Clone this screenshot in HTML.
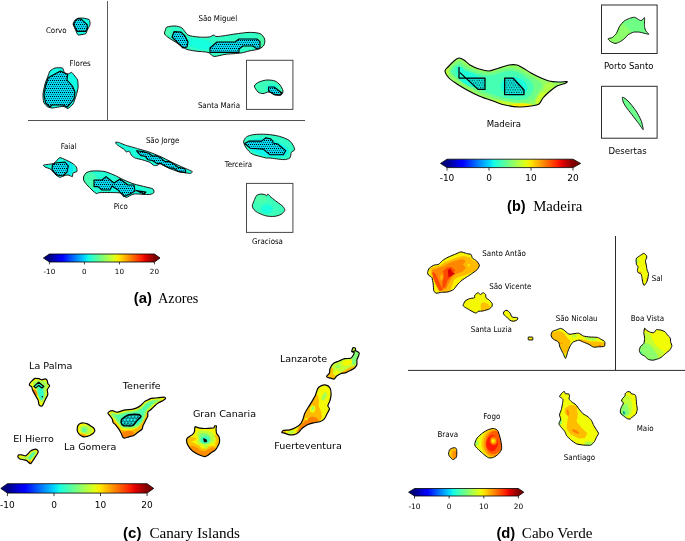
<!DOCTYPE html>
<html><head><meta charset="utf-8"><title>Figure</title>
<style>html,body{margin:0;padding:0;background:#fff}svg{display:block}text{font-family:"DejaVu Sans","Liberation Sans",sans-serif;fill:#000}text.cd{font-family:"DejaVu Sans Condensed","DejaVu Sans",sans-serif;font-stretch:condensed}text.cb{font-family:"Liberation Sans",sans-serif;font-weight:bold;font-size:13.9px;fill:#000}text.cs{font-family:"Liberation Serif",serif;font-size:14.1px;fill:#000}</style>
</head><body>
<svg width="685" height="541" viewBox="0 0 685 541">
<defs>
<clipPath id="c1"><path d="M78.1,18.3 C78.8,18.1 82.3,18.0 83.2,18.1 C84.1,18.2 88.6,19.1 89.2,19.6 C89.8,20.1 90.2,23.7 90.0,24.6 C89.8,25.5 87.6,29.4 87.2,30.2 C86.8,31.0 86.5,33.3 85.7,33.7 C84.9,34.1 78.9,35.2 78.1,35.0 C77.3,34.8 76.5,32.1 76.1,31.2 C75.7,30.3 73.2,25.0 73.1,24.1 C73.0,23.2 74.7,20.6 75.1,20.1 C75.5,19.6 77.4,18.5 78.1,18.3Z"/></clipPath>
<clipPath id="c2"><path d="M55.0,68.0 C53.8,68.3 50.7,70.2 50.0,71.0 C49.3,71.8 48.5,74.7 48.0,76.0 C47.5,77.3 45.5,82.2 45.0,84.0 C44.5,85.8 43.1,92.2 43.0,94.0 C42.9,95.8 43.2,100.8 43.6,102.0 C44.0,103.2 46.2,105.8 47.0,106.4 C47.8,107.0 50.4,108.0 52.0,108.0 C53.6,108.0 61.4,106.4 63.0,106.4 C64.6,106.4 67.0,108.6 68.0,108.4 C69.0,108.2 72.2,105.2 73.0,104.0 C73.8,102.8 75.5,97.6 76.0,96.0 C76.5,94.4 77.8,89.6 78.0,88.0 C78.2,86.4 78.0,81.3 77.6,80.0 C77.2,78.7 74.6,75.8 74.0,75.0 C73.4,74.2 72.2,72.5 71.6,72.4 C71.0,72.3 68.7,74.0 68.0,74.0 C67.3,74.0 65.0,73.0 64.4,72.4 C63.8,71.8 63.3,68.4 62.4,68.0 C61.5,67.6 56.2,67.7 55.0,68.0Z"/></clipPath>
<clipPath id="c3"><path d="M167.0,27.0 C168.3,26.5 173.0,25.9 175.0,26.0 C177.0,26.1 180.3,26.8 182.0,28.0 C183.7,29.2 185.9,33.8 188.0,35.0 C190.1,36.2 195.2,36.7 198.0,37.0 C200.8,37.3 206.9,37.3 209.0,37.0 C211.1,36.7 212.9,35.1 214.0,35.0 C215.1,34.9 214.2,36.7 217.0,36.6 C219.8,36.5 230.7,34.6 235.0,34.0 C239.3,33.4 245.7,32.5 249.0,32.4 C252.3,32.3 257.9,32.7 260.0,33.6 C262.1,34.5 264.1,37.5 264.6,39.0 C265.1,40.5 264.7,43.7 264.0,45.0 C263.3,46.3 261.0,48.2 259.0,49.0 C257.0,49.8 251.4,50.5 249.0,51.0 C246.6,51.5 244.2,52.5 241.0,53.0 C237.8,53.5 228.6,53.9 225.0,54.4 C221.4,54.9 216.3,56.7 214.0,56.4 C211.7,56.1 210.5,53.1 208.0,52.4 C205.5,51.7 197.9,51.5 195.0,51.0 C192.1,50.5 188.4,50.1 186.0,49.0 C183.6,47.9 179.3,44.5 177.0,43.0 C174.7,41.5 170.7,39.2 169.0,38.0 C167.3,36.8 165.1,35.1 164.6,34.0 C164.1,32.9 165.1,30.9 165.4,30.0 C165.7,29.1 165.7,27.5 167.0,27.0Z"/></clipPath>
<clipPath id="c4"><path d="M254.4,86.0 C254.5,84.7 257.3,82.8 259.0,82.0 C260.7,81.2 264.9,80.1 267.0,80.0 C269.1,79.9 273.3,80.3 275.0,81.0 C276.7,81.7 278.9,83.7 280.0,85.0 C281.1,86.3 282.9,89.7 283.0,91.0 C283.1,92.3 282.1,94.5 281.0,95.0 C279.9,95.5 276.6,95.4 275.0,95.0 C273.4,94.6 270.6,92.2 269.0,92.0 C267.4,91.8 264.5,93.6 263.0,93.6 C261.5,93.6 259.1,93.0 258.0,92.0 C256.9,91.0 254.3,87.3 254.4,86.0Z"/></clipPath>
<clipPath id="c5"><path d="M43.6,165.0 C44.4,164.7 52.6,164.0 54.0,163.4 C55.4,162.8 58.5,157.6 60.0,157.6 C61.5,157.6 70.6,162.2 72.0,163.0 C73.4,163.8 76.0,166.3 76.4,167.0 C76.8,167.7 77.3,170.9 77.0,171.4 C76.7,171.9 73.4,172.6 73.0,173.0 C72.6,173.4 72.8,176.4 72.4,176.6 C72.0,176.8 68.8,175.1 68.0,175.0 C67.2,174.9 63.7,175.8 63.0,176.0 C62.3,176.2 60.6,177.5 60.0,177.4 C59.4,177.3 56.8,175.7 56.0,175.0 C55.2,174.3 51.9,170.1 51.0,169.4 C50.1,168.7 45.6,167.4 45.0,167.0 C44.4,166.6 42.9,165.3 43.6,165.0Z"/></clipPath>
<clipPath id="c6"><path d="M83.6,177.0 C83.9,175.9 84.9,173.8 86.0,173.0 C87.1,172.2 89.6,171.2 92.0,171.0 C94.4,170.8 101.1,170.9 104.0,171.4 C106.9,171.9 111.3,173.9 114.0,175.0 C116.7,176.1 121.3,178.8 124.0,180.0 C126.7,181.2 131.1,183.1 134.0,184.0 C136.9,184.9 143.5,186.3 146.0,187.0 C148.5,187.7 152.0,188.2 153.0,189.0 C154.0,189.8 154.3,192.3 153.6,193.0 C152.9,193.7 150.6,194.5 148.0,194.6 C145.4,194.7 136.9,193.6 134.0,194.0 C131.1,194.4 127.7,197.5 126.0,197.4 C124.3,197.3 124.5,193.6 121.0,193.0 C117.5,192.4 103.3,192.5 100.0,192.6 C96.7,192.7 97.6,194.3 96.0,193.4 C94.4,192.5 89.6,187.7 88.0,186.0 C86.4,184.3 84.6,182.2 84.0,181.0 C83.4,179.8 83.3,178.1 83.6,177.0Z"/></clipPath>
<clipPath id="c7"><path d="M115.7,142.1 C116.0,142.0 118.6,142.4 119.4,142.7 C120.2,143.0 124.1,144.7 125.5,145.2 C126.9,145.7 134.6,147.7 136.5,148.3 C138.4,148.9 146.8,151.2 148.8,151.9 C150.8,152.6 159.0,155.9 161.0,156.8 C163.0,157.7 171.2,162.0 173.3,163.0 C175.4,164.0 184.0,167.8 185.6,168.5 C187.2,169.2 191.9,171.2 192.3,171.6 C192.7,172.0 191.1,173.3 190.5,173.4 C189.9,173.5 186.6,173.0 185.6,172.8 C184.6,172.7 179.5,172.0 178.2,171.6 C176.9,171.2 170.8,169.0 169.6,168.5 C168.4,168.0 164.3,165.8 163.5,165.4 C162.7,165.0 160.3,163.6 159.8,163.6 C159.3,163.6 157.9,165.2 157.4,165.4 C156.9,165.6 154.3,165.7 153.7,165.4 C153.1,165.2 150.9,162.9 150.0,162.4 C149.1,161.9 143.9,160.3 142.7,159.9 C141.5,159.5 136.2,158.5 135.3,158.1 C134.4,157.7 132.1,156.2 131.6,155.6 C131.1,155.0 129.7,151.6 129.2,151.3 C128.7,151.0 126.5,152.1 126.1,151.9 C125.7,151.8 124.9,150.0 124.3,149.5 C123.7,149.0 120.1,146.9 119.4,146.4 C118.7,145.9 116.6,144.4 116.3,144.0 C116.0,143.6 115.4,142.2 115.7,142.1Z"/></clipPath>
<clipPath id="c8"><path d="M243.6,141.9 C243.6,140.4 245.1,138.0 246.4,137.0 C247.7,136.0 250.9,135.0 253.6,134.6 C256.3,134.2 263.0,134.1 266.4,134.3 C269.8,134.5 276.3,135.5 279.3,136.3 C282.3,137.1 287.2,139.1 289.0,140.3 C290.8,141.5 292.3,143.8 293.0,145.1 C293.7,146.4 294.8,148.9 294.6,149.9 C294.4,150.9 292.0,151.2 291.4,152.3 C290.8,153.4 290.8,157.0 289.8,158.0 C288.8,159.0 285.9,159.5 284.1,159.6 C282.3,159.7 278.0,159.0 276.1,158.8 C274.2,158.6 271.0,158.1 269.7,158.0 C268.4,157.9 267.7,158.2 266.4,158.0 C265.1,157.8 261.9,156.9 260.0,156.4 C258.1,155.9 253.8,155.0 252.0,153.9 C250.2,152.8 247.5,149.9 246.4,148.3 C245.3,146.7 243.6,143.4 243.6,141.9Z"/></clipPath>
<clipPath id="c9"><path d="M252.3,205.9 C252.3,204.7 253.5,202.0 254.1,200.6 C254.7,199.2 255.8,196.3 256.7,195.4 C257.6,194.5 259.5,194.2 260.6,194.1 C261.7,194.0 264.4,194.5 265.2,194.7 C266.0,194.9 266.1,195.9 266.5,195.8 C266.9,195.7 267.3,193.9 267.9,194.1 C268.5,194.3 269.9,196.3 271.1,197.3 C272.3,198.3 275.4,200.7 277.0,201.9 C278.6,203.1 282.0,205.4 283.0,206.5 C284.0,207.6 285.0,209.4 284.7,210.5 C284.4,211.6 282.4,213.6 281.0,214.4 C279.6,215.2 276.3,216.2 274.4,216.4 C272.5,216.6 268.6,216.4 266.5,216.0 C264.4,215.6 260.4,213.9 258.7,213.1 C257.0,212.3 255.0,210.8 254.1,209.8 C253.2,208.8 252.3,207.1 252.3,205.9Z"/></clipPath>
<clipPath id="c10"><path d="M445.0,71.0 C444.9,69.3 446.6,68.5 448.0,67.0 C449.4,65.5 452.4,62.4 454.0,61.0 C455.6,59.6 457.5,58.1 459.0,58.0 C460.5,57.9 462.4,59.0 464.0,60.0 C465.6,61.0 467.8,63.6 470.0,65.0 C472.2,66.3 476.1,68.1 479.0,69.0 C481.9,69.9 486.0,71.2 489.0,71.0 C492.0,70.8 496.0,68.9 499.0,68.0 C502.0,67.1 506.3,65.5 509.0,65.0 C511.7,64.5 514.9,64.5 517.0,65.0 C519.1,65.5 520.9,66.8 523.0,68.0 C525.1,69.2 528.6,71.7 531.0,73.0 C533.4,74.3 536.3,75.8 539.0,77.0 C541.7,78.2 546.0,80.2 549.0,81.0 C552.0,81.8 556.3,81.9 559.0,82.0 C561.7,82.1 566.1,81.4 567.0,81.6 C567.9,81.8 566.5,82.7 565.0,83.4 C563.5,84.1 559.4,84.7 557.0,86.0 C554.6,87.3 551.1,90.2 549.0,92.0 C546.9,93.8 544.5,96.2 543.0,98.0 C541.5,99.8 540.8,102.8 539.0,104.0 C537.2,105.2 534.0,105.5 531.0,106.0 C528.0,106.5 522.9,107.2 519.0,107.0 C515.1,106.8 508.9,105.9 505.0,105.0 C501.1,104.1 496.9,102.3 493.0,101.0 C489.1,99.7 482.9,97.7 479.0,96.0 C475.1,94.3 470.3,91.8 467.0,90.0 C463.7,88.2 459.7,85.8 457.0,84.0 C454.3,82.2 450.8,80.0 449.0,78.0 C447.2,76.0 445.1,72.7 445.0,71.0Z"/></clipPath>
<clipPath id="c11"><path d="M608.1,38.8 C608.3,38.3 611.3,38.1 612.3,37.5 C613.3,36.9 615.4,34.8 616.3,33.5 C617.2,32.2 618.7,27.8 619.6,26.3 C620.5,24.8 623.1,21.9 624.2,21.0 C625.3,20.1 628.2,18.8 629.4,18.4 C630.6,18.0 633.5,17.1 634.7,17.3 C635.9,17.5 638.5,19.6 639.3,20.0 C640.1,20.4 641.3,20.7 641.9,20.4 C642.5,20.1 644.2,17.0 644.5,17.7 C644.8,18.4 644.3,24.8 644.5,26.3 C644.7,27.8 645.3,30.0 645.8,30.9 C646.3,31.8 649.0,33.9 648.9,34.2 C648.8,34.5 646.2,33.7 645.2,33.5 C644.2,33.3 641.3,32.4 639.9,32.2 C638.5,32.0 634.8,31.9 633.4,32.2 C632.0,32.5 629.2,34.0 628.1,34.8 C627.0,35.6 625.2,38.0 624.2,38.8 C623.2,39.6 620.7,41.5 619.6,42.0 C618.5,42.5 616.1,43.5 615.0,43.4 C613.9,43.3 611.2,41.9 610.4,41.4 C609.6,40.9 607.9,39.3 608.1,38.8Z"/></clipPath>
<clipPath id="c12"><path d="M622.6,97.1 C623.2,97.1 626.5,99.4 628.1,101.0 C629.7,102.6 634.5,108.6 636.0,110.9 C637.5,113.2 640.4,118.5 641.2,120.7 C642.0,122.9 643.5,129.4 643.2,129.7 C642.9,130.0 639.9,125.1 638.6,123.4 C637.3,121.7 633.5,116.8 632.0,114.8 C630.5,112.8 626.6,107.9 625.5,106.3 C624.4,104.7 623.2,102.1 622.9,101.0 C622.6,99.9 622.0,97.1 622.6,97.1Z"/></clipPath>
<clipPath id="c13"><path d="M29.3,384.9 C29.3,384.4 30.6,382.2 31.2,381.6 C31.8,381.0 34.1,378.7 34.9,378.4 C35.7,378.1 38.3,378.6 39.0,378.7 C39.7,378.8 41.1,379.8 41.8,379.8 C42.4,379.8 45.0,378.8 45.5,378.9 C46.0,379.0 47.1,380.2 47.3,380.7 C47.5,381.2 47.6,383.0 47.8,383.5 C48.0,384.0 49.8,385.2 49.7,385.8 C49.7,386.4 47.5,388.6 47.3,389.5 C47.1,390.4 48.0,393.6 47.8,394.6 C47.6,395.6 46.0,398.1 45.5,399.2 C45.0,400.3 43.1,404.5 42.7,405.2 C42.3,405.9 41.7,406.2 41.3,406.1 C40.9,406.1 39.3,405.3 39.0,404.7 C38.7,404.1 38.5,401.1 38.1,400.1 C37.7,399.1 35.4,395.6 34.9,394.6 C34.4,393.6 32.9,390.8 32.6,390.0 C32.3,389.2 31.9,387.2 31.6,386.7 C31.3,386.2 29.3,385.4 29.3,384.9Z"/></clipPath>
<clipPath id="c14"><path d="M17.9,456.1 C18.0,455.8 18.4,455.0 18.8,454.9 C19.2,454.8 21.0,454.8 21.7,454.9 C22.4,455.0 25.2,455.9 25.8,455.8 C26.4,455.7 27.6,454.2 28.1,453.7 C28.6,453.2 29.9,451.5 30.4,451.1 C30.9,450.7 32.8,449.8 33.4,449.6 C34.0,449.4 35.8,449.2 36.3,449.3 C36.8,449.4 37.8,450.5 38.0,450.8 C38.2,451.1 38.2,452.0 38.0,452.6 C37.8,453.2 36.2,455.7 35.7,456.4 C35.2,457.1 33.9,459.2 33.4,459.9 C32.9,460.6 31.4,463.1 31.0,463.4 C30.6,463.7 29.7,463.4 29.3,463.1 C28.9,462.8 27.4,461.0 26.9,460.7 C26.4,460.4 24.7,460.1 24.0,459.9 C23.3,459.7 20.5,459.2 19.9,459.0 C19.3,458.8 18.4,457.8 18.2,457.5 C18.0,457.2 17.8,456.4 17.9,456.1Z"/></clipPath>
<clipPath id="c15"><path d="M77.2,429.0 C77.3,428.0 77.4,426.5 77.9,425.6 C78.4,424.7 79.2,423.9 80.1,423.5 C81.0,423.1 82.3,422.9 83.5,423.0 C84.7,423.1 86.1,423.4 87.3,423.9 C88.5,424.4 89.7,425.2 90.7,425.9 C91.8,426.6 92.9,427.2 93.6,428.0 C94.3,428.8 94.8,429.6 94.8,430.4 C94.8,431.2 94.3,432.0 93.6,432.8 C92.9,433.6 91.8,434.4 90.7,435.0 C89.7,435.6 88.3,436.1 87.3,436.4 C86.2,436.7 85.4,437.0 84.4,436.9 C83.4,436.8 82.4,436.5 81.5,436.0 C80.6,435.5 79.6,434.6 78.9,433.8 C78.2,433.0 77.8,432.2 77.5,431.4 C77.2,430.6 77.1,430.0 77.2,429.0Z"/></clipPath>
<clipPath id="c16"><path d="M107.9,413.2 C107.9,412.8 109.4,411.5 109.8,411.3 C110.2,411.1 112.6,410.7 113.2,410.8 C113.8,410.9 115.9,412.2 116.5,412.2 C117.1,412.2 119.7,411.5 120.4,411.3 C121.1,411.1 124.2,410.0 125.2,409.8 C126.2,409.6 130.9,409.5 131.9,409.3 C132.9,409.1 136.1,408.2 136.8,407.9 C137.5,407.6 140.0,406.0 140.6,405.5 C141.2,405.0 143.9,402.1 144.5,401.6 C145.1,401.1 147.7,400.0 148.3,399.7 C148.9,399.4 150.6,398.4 151.2,398.3 C151.8,398.2 155.1,398.1 156.0,398.0 C156.9,397.9 161.1,397.4 161.8,397.3 C162.5,397.2 164.4,397.2 164.7,397.3 C165.0,397.4 165.7,398.4 165.5,398.7 C165.3,399.0 163.4,400.4 162.8,400.7 C162.2,401.0 159.5,402.2 158.9,402.6 C158.3,403.0 155.7,404.9 155.1,405.5 C154.5,406.1 151.8,408.7 151.2,409.3 C150.6,409.9 148.1,411.6 147.8,412.2 C147.5,412.8 148.0,415.4 147.8,416.1 C147.6,416.8 145.8,420.1 145.4,420.9 C145.0,421.7 143.3,425.0 143.0,425.7 C142.7,426.4 142.5,428.5 142.1,429.1 C141.7,429.7 138.4,432.0 137.7,432.5 C137.0,433.0 134.6,435.0 133.9,435.4 C133.2,435.8 129.8,436.6 129.0,436.8 C128.2,437.0 124.8,438.2 124.2,438.2 C123.6,438.2 122.5,436.7 122.3,436.3 C122.1,435.9 121.6,434.0 121.3,433.4 C121.0,432.8 119.0,429.3 118.5,428.6 C118.0,427.9 116.0,425.3 115.6,424.8 C115.2,424.3 113.5,423.3 113.2,422.8 C112.9,422.3 112.5,419.6 112.2,419.0 C111.9,418.4 110.2,416.1 109.8,415.6 C109.4,415.1 107.9,413.6 107.9,413.2Z"/></clipPath>
<clipPath id="c17"><path d="M195.1,426.6 C195.3,426.6 198.1,427.7 198.6,427.8 C199.1,427.9 204.2,428.5 204.8,428.5 C205.4,428.5 210.5,428.1 211.0,428.1 C211.5,428.1 213.9,427.9 214.1,427.8 C214.3,427.7 214.4,425.9 214.5,425.8 C214.6,425.7 216.4,425.7 216.5,425.8 C216.6,425.9 216.1,428.1 216.1,428.5 C216.1,428.9 216.4,432.8 216.5,433.2 C216.6,433.6 218.6,435.9 218.8,436.3 C219.0,436.7 219.6,439.8 219.6,440.2 C219.6,440.6 219.3,442.9 219.2,443.3 C219.1,443.7 217.4,446.8 217.2,447.2 C217.0,447.6 215.2,450.0 214.9,450.3 C214.6,450.6 210.7,453.1 210.3,453.4 C209.9,453.7 207.8,455.4 207.5,455.6 C207.2,455.8 205.2,456.6 204.8,456.6 C204.4,456.6 200.7,455.5 200.2,455.3 C199.7,455.1 195.2,452.9 194.7,452.6 C194.2,452.3 190.5,449.2 190.1,448.7 C189.7,448.2 187.2,443.8 187.0,443.3 C186.8,442.8 186.5,439.7 186.6,439.4 C186.7,439.1 188.2,437.3 188.5,437.1 C188.8,436.9 192.1,435.0 192.4,434.7 C192.7,434.4 194.3,431.9 194.4,431.6 C194.5,431.3 194.7,428.8 194.7,428.5 C194.7,428.2 194.9,426.6 195.1,426.6Z"/></clipPath>
<clipPath id="c18"><path d="M326.7,376.1 C326.9,375.7 329.1,373.8 329.4,373.0 C329.7,372.2 329.7,369.4 330.1,368.4 C330.5,367.4 332.7,364.0 333.6,363.3 C334.5,362.6 338.0,361.5 339.1,361.0 C340.2,360.5 343.3,359.0 344.5,358.7 C345.7,358.4 349.8,358.6 350.7,358.3 C351.6,358.0 352.6,356.2 353.0,355.6 C353.4,355.0 354.3,352.9 354.2,352.5 C354.1,352.1 351.8,352.1 351.7,351.6 C351.6,351.1 352.6,348.1 353.0,347.8 C353.4,347.5 355.1,347.9 355.4,348.2 C355.7,348.5 355.3,350.0 355.7,350.5 C356.1,351.0 358.9,352.3 359.2,352.9 C359.5,353.4 358.7,355.3 358.5,356.0 C358.3,356.7 357.1,358.9 356.9,359.8 C356.7,360.7 357.1,363.7 356.9,364.5 C356.7,365.3 355.2,367.4 354.6,368.0 C354.0,368.6 351.6,369.8 350.7,370.3 C349.8,370.8 347.0,372.2 346.0,372.6 C345.0,373.0 341.5,373.4 340.6,373.8 C339.7,374.2 337.4,375.6 336.7,376.1 C336.0,376.6 334.6,378.9 334.0,379.1 C333.4,379.3 331.2,378.3 330.5,378.1 C329.8,377.9 327.8,377.5 327.4,377.3 C327.0,377.1 326.5,376.5 326.7,376.1Z"/></clipPath>
<clipPath id="c19"><path d="M281.8,432.5 C281.7,432.2 282.6,430.7 283.4,430.4 C284.2,430.1 288.5,430.1 289.8,429.8 C291.1,429.5 295.1,427.8 296.2,427.2 C297.3,426.6 300.3,424.3 301.0,423.4 C301.7,422.5 302.8,419.6 303.2,418.6 C303.6,417.6 304.3,414.4 304.8,413.2 C305.3,412.0 307.9,408.0 308.6,406.8 C309.4,405.6 311.6,402.1 312.3,400.9 C313.0,399.7 315.0,396.2 315.5,395.0 C316.0,393.8 317.2,389.5 317.7,388.6 C318.2,387.7 320.0,386.2 320.9,385.9 C321.8,385.5 325.3,384.9 326.2,385.1 C327.1,385.3 329.5,387.1 330.0,388.0 C330.5,388.9 331.1,392.7 331.1,393.9 C331.1,395.1 330.3,399.2 330.0,400.4 C329.7,401.6 327.9,404.8 327.8,405.7 C327.8,406.6 329.6,408.0 329.5,408.9 C329.4,409.8 327.3,413.3 326.8,414.3 C326.3,415.3 324.8,418.4 324.1,419.1 C323.4,419.9 320.9,421.4 319.8,421.8 C318.7,422.2 314.7,422.6 313.4,422.9 C312.1,423.2 308.1,424.4 306.9,425.0 C305.7,425.6 302.5,428.1 301.6,428.8 C300.8,429.6 299.1,431.9 298.4,432.5 C297.6,433.1 295.1,434.5 294.1,434.7 C293.1,434.9 289.7,434.9 288.7,434.7 C287.7,434.5 285.1,433.3 284.4,433.1 C283.7,432.9 281.9,432.8 281.8,432.5Z"/></clipPath>
<clipPath id="c20"><path d="M427.5,272.5 C427.6,271.8 428.8,268.6 429.5,267.9 C430.2,267.2 433.3,265.5 434.2,265.1 C435.1,264.7 438.0,264.7 438.8,264.2 C439.6,263.7 441.6,261.2 442.5,260.5 C443.4,259.8 446.8,257.8 448.0,257.2 C449.2,256.6 453.2,255.0 454.5,254.5 C455.8,254.0 459.7,252.0 460.9,251.9 C462.1,251.8 465.5,253.2 466.5,253.5 C467.5,253.8 470.5,254.0 471.1,254.5 C471.7,255.0 471.9,257.6 472.5,258.2 C473.1,258.8 475.9,260.2 476.6,260.9 C477.3,261.6 479.3,264.3 479.4,265.1 C479.5,265.9 478.2,268.4 477.6,269.2 C477.0,270.0 473.9,272.2 472.9,272.9 C471.9,273.6 468.5,275.9 467.4,276.6 C466.3,277.3 462.9,279.5 461.9,280.3 C460.9,281.1 458.0,284.0 457.2,284.9 C456.4,285.8 454.4,288.9 453.5,289.6 C452.6,290.3 449.2,291.6 448.0,291.9 C446.8,292.2 442.7,292.2 441.5,292.3 C440.3,292.4 436.8,293.4 436.0,293.2 C435.2,293.0 434.0,291.4 433.7,290.5 C433.4,289.6 433.4,285.3 433.2,284.0 C433.0,282.7 432.3,278.4 431.8,277.5 C431.3,276.6 429.0,275.7 428.6,275.2 C428.2,274.7 427.4,273.2 427.5,272.5Z"/></clipPath>
<clipPath id="c21"><path d="M463.1,305.3 C463.2,304.8 464.5,301.7 465.0,301.1 C465.5,300.6 468.4,299.0 469.2,298.7 C470.0,298.4 473.9,298.1 474.4,297.8 C474.9,297.5 474.5,295.4 474.8,295.0 C475.1,294.6 477.6,292.7 478.1,292.7 C478.6,292.7 480.0,294.5 480.4,294.5 C480.8,294.5 482.8,292.7 483.2,292.7 C483.6,292.7 485.4,294.1 485.6,294.5 C485.8,294.9 485.7,297.3 486.0,297.8 C486.3,298.3 488.8,299.6 489.3,300.1 C489.8,300.6 491.9,302.9 492.1,303.4 C492.3,303.9 492.3,305.7 492.1,306.2 C491.9,306.7 490.0,308.6 489.3,309.0 C488.6,309.4 484.1,310.7 483.2,310.9 C482.3,311.1 478.7,311.2 478.1,311.4 C477.5,311.6 476.7,313.2 476.2,313.2 C475.7,313.2 472.7,311.8 472.0,311.4 C471.3,311.0 468.0,309.0 467.3,308.6 C466.6,308.2 464.5,307.0 464.1,306.7 C463.8,306.4 463.0,305.8 463.1,305.3Z"/></clipPath>
<clipPath id="c22"><path d="M503.3,313.2 C503.4,312.6 504.2,311.3 504.7,310.9 C505.2,310.5 506.4,310.1 507.1,310.4 C507.8,310.7 509.2,311.9 509.9,312.8 C510.6,313.7 511.4,316.4 512.2,317.0 C513.0,317.6 515.2,317.3 515.9,317.4 C516.6,317.5 517.7,317.5 517.8,317.9 C517.9,318.3 517.5,319.8 516.9,320.2 C516.3,320.6 514.0,321.2 513.1,321.2 C512.2,321.2 510.8,320.8 509.9,320.2 C509.0,319.6 507.3,317.7 506.6,317.0 C505.9,316.3 504.7,315.6 504.3,315.1 C503.9,314.6 503.2,313.8 503.3,313.2Z"/></clipPath>
<clipPath id="c23"><path d="M528.3,337.1 C528.5,337.0 532.4,337.0 532.6,337.1 C532.8,337.2 533.0,339.8 532.8,339.9 C532.6,340.0 528.6,340.0 528.4,339.9 C528.2,339.8 528.1,337.2 528.3,337.1Z"/></clipPath>
<clipPath id="c24"><path d="M551.1,334.6 C551.2,334.0 552.0,331.8 552.5,331.3 C553.0,330.8 555.5,330.2 556.3,329.9 C557.1,329.6 559.8,328.4 560.5,328.4 C561.2,328.4 563.0,329.3 563.8,329.9 C564.6,330.5 567.9,333.7 568.9,334.1 C569.9,334.5 573.0,333.8 574.0,333.7 C575.0,333.6 577.8,333.0 578.7,333.2 C579.6,333.4 582.3,335.6 583.4,336.0 C584.5,336.4 588.5,336.9 589.9,337.0 C591.3,337.1 596.3,337.2 597.4,337.4 C598.5,337.6 600.4,338.9 601.1,339.3 C601.8,339.7 604.4,340.9 604.7,341.6 C605.0,342.3 605.0,345.8 604.4,346.3 C603.8,346.8 599.4,346.7 598.3,346.8 C597.2,346.9 594.6,347.4 593.7,347.2 C592.8,347.0 590.0,344.9 589.0,344.4 C588.0,343.9 584.4,342.5 583.4,342.1 C582.4,341.7 579.7,340.2 578.7,340.2 C577.7,340.2 573.9,341.5 573.1,342.1 C572.3,342.7 570.8,344.9 570.3,345.8 C569.8,346.7 568.5,349.7 568.0,351.0 C567.5,352.3 566.1,358.1 565.6,358.4 C565.1,358.7 563.9,354.9 563.3,353.8 C562.7,352.7 560.5,348.4 560.0,347.2 C559.5,346.0 559.2,342.9 558.6,342.1 C558.0,341.3 554.2,339.8 553.5,339.3 C552.8,338.8 551.8,337.5 551.6,337.0 C551.4,336.5 551.0,335.2 551.1,334.6Z"/></clipPath>
<clipPath id="c25"><path d="M636.5,258.1 C636.9,257.6 639.7,255.9 640.4,255.4 C641.1,254.9 643.3,253.3 643.9,253.3 C644.5,253.3 646.3,255.3 646.6,255.8 C646.9,256.3 646.7,257.6 646.6,258.1 C646.5,258.6 645.4,260.1 645.4,260.8 C645.4,261.5 646.1,264.2 646.3,265.1 C646.5,266.0 646.8,268.8 647.0,269.7 C647.2,270.6 648.4,272.7 648.5,273.6 C648.6,274.5 647.9,278.2 647.7,279.1 C647.5,280.0 646.7,282.3 646.3,282.9 C645.9,283.5 644.4,285.5 644.0,285.4 C643.6,285.3 642.9,283.0 642.7,282.2 C642.5,281.4 642.1,278.3 641.9,277.5 C641.7,276.7 641.5,274.5 641.1,274.0 C640.8,273.5 638.8,273.2 638.4,272.8 C638.0,272.4 637.3,271.1 637.3,270.5 C637.3,269.9 638.1,267.2 638.0,266.6 C637.9,266.0 636.7,265.3 636.5,264.7 C636.3,264.1 636.1,261.5 636.1,260.8 C636.1,260.1 636.1,258.6 636.5,258.1Z"/></clipPath>
<clipPath id="c26"><path d="M644.6,328.1 C644.9,327.9 645.7,329.7 646.3,330.1 C646.9,330.5 649.5,331.9 650.3,332.2 C651.1,332.4 653.4,332.9 654.0,332.6 C654.6,332.4 655.7,329.9 656.4,329.7 C657.1,329.4 660.0,329.9 660.9,330.1 C661.8,330.3 664.3,331.3 665.0,331.8 C665.7,332.3 667.3,334.8 667.8,335.4 C668.3,336.0 669.9,337.2 670.2,337.9 C670.5,338.6 670.5,341.5 670.7,342.3 C670.9,343.1 671.9,344.9 671.9,345.6 C671.9,346.3 670.8,348.8 670.2,349.6 C669.6,350.4 666.6,352.6 665.8,353.3 C664.9,354.0 662.5,356.4 661.7,357.0 C660.9,357.6 658.5,358.7 657.6,359.0 C656.7,359.3 653.7,360.2 652.8,360.2 C651.9,360.2 649.1,359.8 648.3,359.4 C647.5,359.0 645.3,356.6 644.6,356.1 C643.9,355.6 641.5,354.7 641.0,354.1 C640.5,353.5 639.3,351.3 639.3,350.5 C639.3,349.7 640.1,347.1 640.6,346.4 C641.1,345.7 643.4,344.3 643.8,343.5 C644.2,342.7 644.6,339.4 644.6,338.3 C644.6,337.2 643.8,333.6 643.8,332.6 C643.8,331.6 644.4,328.4 644.6,328.1Z"/></clipPath>
<clipPath id="c27"><path d="M448.6,453.0 C448.7,452.4 449.3,450.1 449.6,449.6 C449.9,449.1 451.5,448.4 452.0,448.2 C452.5,448.0 454.5,447.5 455.0,447.6 C455.5,447.7 456.4,448.8 456.6,449.4 C456.8,450.0 456.8,453.2 456.8,454.0 C456.8,454.8 456.6,456.8 456.2,457.4 C455.8,458.0 453.6,459.6 453.0,459.6 C452.4,459.6 451.0,458.0 450.6,457.6 C450.2,457.2 449.2,456.1 449.0,455.6 C448.8,455.1 448.5,453.6 448.6,453.0Z"/></clipPath>
<clipPath id="c28"><path d="M474.8,443.4 C475.1,442.3 476.1,439.3 477.2,437.9 C478.3,436.5 481.2,434.0 482.7,432.9 C484.2,431.8 487.2,430.1 488.7,429.5 C490.2,428.9 492.4,428.4 493.6,428.5 C494.8,428.6 496.8,429.5 497.6,430.5 C498.4,431.5 499.1,434.3 499.6,435.9 C500.1,437.5 500.8,440.7 501.1,442.4 C501.4,444.1 501.9,447.3 501.6,448.8 C501.3,450.3 499.7,452.7 498.6,453.8 C497.5,454.9 494.9,456.8 493.6,457.3 C492.3,457.8 490.0,458.2 488.7,457.8 C487.4,457.4 485.0,455.4 483.7,454.3 C482.4,453.2 479.8,450.9 478.7,449.8 C477.6,448.7 475.8,447.2 475.3,446.3 C474.8,445.4 474.5,444.5 474.8,443.4Z"/></clipPath>
<clipPath id="c29"><path d="M559.5,396.6 C559.5,396.2 561.5,393.5 561.9,393.1 C562.3,392.7 563.9,391.2 564.2,391.3 C564.5,391.4 565.0,393.5 565.4,393.7 C565.8,393.9 568.7,393.8 569.0,394.0 C569.3,394.2 569.5,396.2 569.5,396.6 C569.5,397.0 568.8,398.6 569.0,399.0 C569.2,399.4 571.3,401.5 571.9,402.0 C572.5,402.5 575.4,404.3 576.0,404.9 C576.6,405.5 578.4,408.3 579.0,409.0 C579.6,409.7 582.4,413.2 583.1,413.8 C583.8,414.4 587.2,416.2 587.9,416.7 C588.6,417.2 590.9,419.6 591.4,420.3 C591.9,421.0 593.2,424.5 593.8,425.6 C594.4,426.7 598.3,432.4 598.5,433.3 C598.7,434.2 597.0,436.1 596.7,436.8 C596.4,437.5 594.9,440.9 594.4,441.6 C593.9,442.3 591.7,444.8 590.8,445.1 C589.9,445.4 584.9,445.2 583.7,445.1 C582.5,445.0 577.7,444.3 576.6,443.9 C575.5,443.5 571.5,440.5 570.7,439.8 C569.9,439.1 567.1,436.3 566.6,435.6 C566.1,434.9 565.2,432.2 564.8,431.5 C564.4,430.8 561.8,428.0 561.3,427.4 C560.8,426.8 558.9,424.5 558.9,423.8 C558.9,423.1 560.7,419.8 560.7,419.1 C560.8,418.4 559.5,415.8 559.5,415.0 C559.5,414.2 561.0,410.5 561.3,409.6 C561.5,408.7 562.4,404.5 562.5,403.7 C562.6,402.9 563.1,400.1 563.0,399.6 C562.9,399.1 561.6,398.1 561.3,397.8 C561.0,397.6 559.5,397.0 559.5,396.6Z"/></clipPath>
<clipPath id="c30"><path d="M625.3,393.4 C625.6,393.0 627.3,391.7 627.8,391.6 C628.3,391.5 629.9,391.8 630.3,392.0 C630.6,392.2 630.8,393.4 631.3,393.7 C631.8,394.0 634.7,394.3 635.2,394.8 C635.7,395.3 636.1,397.7 636.2,398.6 C636.3,399.6 636.5,403.2 636.6,404.3 C636.7,405.4 637.4,408.2 637.3,409.2 C637.2,410.2 636.4,413.3 635.9,414.1 C635.4,414.9 633.0,416.4 632.4,416.9 C631.8,417.4 630.8,418.8 630.3,419.0 C629.8,419.2 628.0,419.0 627.4,418.7 C626.8,418.4 624.6,416.8 623.9,416.2 C623.2,415.6 620.7,413.8 620.4,413.0 C620.1,412.2 620.6,409.3 620.8,408.5 C621.0,407.7 622.2,405.6 622.5,405.0 C622.8,404.4 623.7,403.3 623.6,402.9 C623.5,402.5 621.6,401.5 621.5,401.1 C621.4,400.7 622.1,399.1 622.5,398.6 C622.9,398.1 624.7,396.3 625.0,395.8 C625.3,395.3 625.0,393.8 625.3,393.4Z"/></clipPath>
<linearGradient id="g31" gradientUnits="userSpaceOnUse" x1="43.4" x2="160.0" y1="0" y2="0"><stop offset="0" stop-color="#000080"/><stop offset="0.0515" stop-color="#000080"/><stop offset="0.0890" stop-color="#0000b0"/><stop offset="0.1265" stop-color="#0000e0"/><stop offset="0.1640" stop-color="#0000ff"/><stop offset="0.2015" stop-color="#002aff"/><stop offset="0.2391" stop-color="#0055ff"/><stop offset="0.2766" stop-color="#0080ff"/><stop offset="0.3141" stop-color="#00aaff"/><stop offset="0.3516" stop-color="#00d4ff"/><stop offset="0.3892" stop-color="#15ffe2"/><stop offset="0.4267" stop-color="#37ffc0"/><stop offset="0.4642" stop-color="#59ff9e"/><stop offset="0.5017" stop-color="#7bff7b"/><stop offset="0.5392" stop-color="#9eff59"/><stop offset="0.5768" stop-color="#c0ff37"/><stop offset="0.6143" stop-color="#e2ff15"/><stop offset="0.6518" stop-color="#ffe600"/><stop offset="0.6893" stop-color="#ffbe00"/><stop offset="0.7268" stop-color="#ff9700"/><stop offset="0.7644" stop-color="#ff7000"/><stop offset="0.8019" stop-color="#ff4800"/><stop offset="0.8394" stop-color="#ff2100"/><stop offset="0.8769" stop-color="#e00000"/><stop offset="0.9145" stop-color="#b00000"/><stop offset="0.9520" stop-color="#800000"/><stop offset="1" stop-color="#800000"/></linearGradient>
<linearGradient id="g32" gradientUnits="userSpaceOnUse" x1="440.5" x2="580.6" y1="0" y2="0"><stop offset="0" stop-color="#000080"/><stop offset="0.0464" stop-color="#000080"/><stop offset="0.0839" stop-color="#0000b0"/><stop offset="0.1213" stop-color="#0000e0"/><stop offset="0.1588" stop-color="#0000ff"/><stop offset="0.1963" stop-color="#002aff"/><stop offset="0.2338" stop-color="#0055ff"/><stop offset="0.2712" stop-color="#0080ff"/><stop offset="0.3087" stop-color="#00aaff"/><stop offset="0.3462" stop-color="#00d4ff"/><stop offset="0.3837" stop-color="#15ffe2"/><stop offset="0.4211" stop-color="#37ffc0"/><stop offset="0.4586" stop-color="#59ff9e"/><stop offset="0.4961" stop-color="#7bff7b"/><stop offset="0.5335" stop-color="#9eff59"/><stop offset="0.5710" stop-color="#c0ff37"/><stop offset="0.6085" stop-color="#e2ff15"/><stop offset="0.6460" stop-color="#ffe600"/><stop offset="0.6834" stop-color="#ffbe00"/><stop offset="0.7209" stop-color="#ff9700"/><stop offset="0.7584" stop-color="#ff7000"/><stop offset="0.7959" stop-color="#ff4800"/><stop offset="0.8333" stop-color="#ff2100"/><stop offset="0.8708" stop-color="#e00000"/><stop offset="0.9083" stop-color="#b00000"/><stop offset="0.9458" stop-color="#800000"/><stop offset="1" stop-color="#800000"/></linearGradient>
<linearGradient id="g33" gradientUnits="userSpaceOnUse" x1="0.8" x2="153.7" y1="0" y2="0"><stop offset="0" stop-color="#000080"/><stop offset="0.0432" stop-color="#000080"/><stop offset="0.0812" stop-color="#0000b0"/><stop offset="0.1193" stop-color="#0000e0"/><stop offset="0.1574" stop-color="#0000ff"/><stop offset="0.1954" stop-color="#002aff"/><stop offset="0.2335" stop-color="#0055ff"/><stop offset="0.2716" stop-color="#0080ff"/><stop offset="0.3097" stop-color="#00aaff"/><stop offset="0.3477" stop-color="#00d4ff"/><stop offset="0.3858" stop-color="#15ffe2"/><stop offset="0.4239" stop-color="#37ffc0"/><stop offset="0.4619" stop-color="#59ff9e"/><stop offset="0.5000" stop-color="#7bff7b"/><stop offset="0.5381" stop-color="#9eff59"/><stop offset="0.5761" stop-color="#c0ff37"/><stop offset="0.6142" stop-color="#e2ff15"/><stop offset="0.6523" stop-color="#ffe600"/><stop offset="0.6903" stop-color="#ffbe00"/><stop offset="0.7284" stop-color="#ff9700"/><stop offset="0.7665" stop-color="#ff7000"/><stop offset="0.8046" stop-color="#ff4800"/><stop offset="0.8426" stop-color="#ff2100"/><stop offset="0.8807" stop-color="#e00000"/><stop offset="0.9188" stop-color="#b00000"/><stop offset="0.9568" stop-color="#800000"/><stop offset="1" stop-color="#800000"/></linearGradient>
<linearGradient id="g34" gradientUnits="userSpaceOnUse" x1="408.6" x2="523.8" y1="0" y2="0"><stop offset="0" stop-color="#000080"/><stop offset="0.0512" stop-color="#000080"/><stop offset="0.0888" stop-color="#0000b0"/><stop offset="0.1264" stop-color="#0000e0"/><stop offset="0.1640" stop-color="#0000ff"/><stop offset="0.2015" stop-color="#002aff"/><stop offset="0.2391" stop-color="#0055ff"/><stop offset="0.2767" stop-color="#0080ff"/><stop offset="0.3143" stop-color="#00aaff"/><stop offset="0.3519" stop-color="#00d4ff"/><stop offset="0.3894" stop-color="#15ffe2"/><stop offset="0.4270" stop-color="#37ffc0"/><stop offset="0.4646" stop-color="#59ff9e"/><stop offset="0.5022" stop-color="#7bff7b"/><stop offset="0.5397" stop-color="#9eff59"/><stop offset="0.5773" stop-color="#c0ff37"/><stop offset="0.6149" stop-color="#e2ff15"/><stop offset="0.6525" stop-color="#ffe600"/><stop offset="0.6901" stop-color="#ffbe00"/><stop offset="0.7276" stop-color="#ff9700"/><stop offset="0.7652" stop-color="#ff7000"/><stop offset="0.8028" stop-color="#ff4800"/><stop offset="0.8404" stop-color="#ff2100"/><stop offset="0.8780" stop-color="#e00000"/><stop offset="0.9155" stop-color="#b00000"/><stop offset="0.9531" stop-color="#800000"/><stop offset="1" stop-color="#800000"/></linearGradient>
<pattern id="dots" width="2" height="4" patternUnits="userSpaceOnUse"><circle cx="0.5" cy="0.5" r="0.58" fill="#000"/><circle cx="1.5" cy="2.5" r="0.46" fill="#000"/></pattern>
<pattern id="dots2" width="2.4" height="4.8" patternUnits="userSpaceOnUse"><circle cx="0.6" cy="1.2" r="0.62" fill="#000"/><circle cx="1.8" cy="3.6" r="0.62" fill="#000"/></pattern>
<pattern id="dots3" x="122.3" y="415.3" width="3.3" height="6" patternUnits="userSpaceOnUse"><rect width="3.3" height="6" fill="#001818"/><circle cx="0.825" cy="1.5" r="1.32" fill="#20fcfa"/><circle cx="4.125" cy="1.5" r="1.5" fill="#20fcfa"/><circle cx="2.475" cy="4.5" r="1.5" fill="#20fcfa"/><circle cx="-0.825" cy="4.5" r="1.5" fill="#20fcfa"/></pattern>
<filter id="b0.3" x="-30%" y="-30%" width="160%" height="160%"><feGaussianBlur stdDeviation="0.3"/></filter>
<filter id="b0.4" x="-30%" y="-30%" width="160%" height="160%"><feGaussianBlur stdDeviation="0.4"/></filter>
<filter id="b0.5" x="-30%" y="-30%" width="160%" height="160%"><feGaussianBlur stdDeviation="0.5"/></filter>
<filter id="b0.6" x="-30%" y="-30%" width="160%" height="160%"><feGaussianBlur stdDeviation="0.6"/></filter>
<filter id="b0.7" x="-30%" y="-30%" width="160%" height="160%"><feGaussianBlur stdDeviation="0.7"/></filter>
<filter id="b0.8" x="-30%" y="-30%" width="160%" height="160%"><feGaussianBlur stdDeviation="0.8"/></filter>
<filter id="b1.2" x="-30%" y="-30%" width="160%" height="160%"><feGaussianBlur stdDeviation="1.2"/></filter>
</defs>
<rect width="685" height="541" fill="#fff"/>
<g clip-path="url(#c1)"><path d="M78.1,18.3 C78.8,18.1 82.3,18.0 83.2,18.1 C84.1,18.2 88.6,19.1 89.2,19.6 C89.8,20.1 90.2,23.7 90.0,24.6 C89.8,25.5 87.6,29.4 87.2,30.2 C86.8,31.0 86.5,33.3 85.7,33.7 C84.9,34.1 78.9,35.2 78.1,35.0 C77.3,34.8 76.5,32.1 76.1,31.2 C75.7,30.3 73.2,25.0 73.1,24.1 C73.0,23.2 74.7,20.6 75.1,20.1 C75.5,19.6 77.4,18.5 78.1,18.3Z" fill="#13fde4"/></g><path d="M78.1,18.6 L81.1,19.1 L87.2,24.6 L87.4,29.2 L85.7,31.4 L77.1,31.4 L73.6,24.6 L75.6,20.1Z" fill="#06d6ee"/><path d="M78.1,18.6 L81.1,19.1 L87.2,24.6 L87.4,29.2 L85.7,31.4 L77.1,31.4 L73.6,24.6 L75.6,20.1Z" fill="url(#dots)" stroke="#000" stroke-width="1.10" stroke-linejoin="round"/><path d="M78.1,18.3 C78.8,18.1 82.3,18.0 83.2,18.1 C84.1,18.2 88.6,19.1 89.2,19.6 C89.8,20.1 90.2,23.7 90.0,24.6 C89.8,25.5 87.6,29.4 87.2,30.2 C86.8,31.0 86.5,33.3 85.7,33.7 C84.9,34.1 78.9,35.2 78.1,35.0 C77.3,34.8 76.5,32.1 76.1,31.2 C75.7,30.3 73.2,25.0 73.1,24.1 C73.0,23.2 74.7,20.6 75.1,20.1 C75.5,19.6 77.4,18.5 78.1,18.3Z" fill="none" stroke="#000" stroke-width="0.90" stroke-linejoin="round"/>
<g clip-path="url(#c2)"><path d="M55.0,68.0 C53.8,68.3 50.7,70.2 50.0,71.0 C49.3,71.8 48.5,74.7 48.0,76.0 C47.5,77.3 45.5,82.2 45.0,84.0 C44.5,85.8 43.1,92.2 43.0,94.0 C42.9,95.8 43.2,100.8 43.6,102.0 C44.0,103.2 46.2,105.8 47.0,106.4 C47.8,107.0 50.4,108.0 52.0,108.0 C53.6,108.0 61.4,106.4 63.0,106.4 C64.6,106.4 67.0,108.6 68.0,108.4 C69.0,108.2 72.2,105.2 73.0,104.0 C73.8,102.8 75.5,97.6 76.0,96.0 C76.5,94.4 77.8,89.6 78.0,88.0 C78.2,86.4 78.0,81.3 77.6,80.0 C77.2,78.7 74.6,75.8 74.0,75.0 C73.4,74.2 72.2,72.5 71.6,72.4 C71.0,72.3 68.7,74.0 68.0,74.0 C67.3,74.0 65.0,73.0 64.4,72.4 C63.8,71.8 63.3,68.4 62.4,68.0 C61.5,67.6 56.2,67.7 55.0,68.0Z" fill="#13fde4"/></g><path d="M60.5,71.0 L64.4,73.0 L67.6,74.4 L67.0,80.0 L72.4,86.0 L75.0,92.0 L74.0,99.0 L70.0,104.0 L67.0,107.0 L63.0,105.0 L52.0,105.0 L50.0,107.0 L45.6,103.0 L44.0,95.0 L45.6,86.0 L48.0,78.0 L53.0,75.0Z" fill="#06d6ee"/><path d="M60.5,71.0 L64.4,73.0 L67.6,74.4 L67.0,80.0 L72.4,86.0 L75.0,92.0 L74.0,99.0 L70.0,104.0 L67.0,107.0 L63.0,105.0 L52.0,105.0 L50.0,107.0 L45.6,103.0 L44.0,95.0 L45.6,86.0 L48.0,78.0 L53.0,75.0Z" fill="url(#dots)" stroke="#000" stroke-width="1.10" stroke-linejoin="round"/><path d="M55.0,68.0 C53.8,68.3 50.7,70.2 50.0,71.0 C49.3,71.8 48.5,74.7 48.0,76.0 C47.5,77.3 45.5,82.2 45.0,84.0 C44.5,85.8 43.1,92.2 43.0,94.0 C42.9,95.8 43.2,100.8 43.6,102.0 C44.0,103.2 46.2,105.8 47.0,106.4 C47.8,107.0 50.4,108.0 52.0,108.0 C53.6,108.0 61.4,106.4 63.0,106.4 C64.6,106.4 67.0,108.6 68.0,108.4 C69.0,108.2 72.2,105.2 73.0,104.0 C73.8,102.8 75.5,97.6 76.0,96.0 C76.5,94.4 77.8,89.6 78.0,88.0 C78.2,86.4 78.0,81.3 77.6,80.0 C77.2,78.7 74.6,75.8 74.0,75.0 C73.4,74.2 72.2,72.5 71.6,72.4 C71.0,72.3 68.7,74.0 68.0,74.0 C67.3,74.0 65.0,73.0 64.4,72.4 C63.8,71.8 63.3,68.4 62.4,68.0 C61.5,67.6 56.2,67.7 55.0,68.0Z" fill="none" stroke="#000" stroke-width="0.90" stroke-linejoin="round"/>
<g clip-path="url(#c3)"><path d="M167.0,27.0 C168.3,26.5 173.0,25.9 175.0,26.0 C177.0,26.1 180.3,26.8 182.0,28.0 C183.7,29.2 185.9,33.8 188.0,35.0 C190.1,36.2 195.2,36.7 198.0,37.0 C200.8,37.3 206.9,37.3 209.0,37.0 C211.1,36.7 212.9,35.1 214.0,35.0 C215.1,34.9 214.2,36.7 217.0,36.6 C219.8,36.5 230.7,34.6 235.0,34.0 C239.3,33.4 245.7,32.5 249.0,32.4 C252.3,32.3 257.9,32.7 260.0,33.6 C262.1,34.5 264.1,37.5 264.6,39.0 C265.1,40.5 264.7,43.7 264.0,45.0 C263.3,46.3 261.0,48.2 259.0,49.0 C257.0,49.8 251.4,50.5 249.0,51.0 C246.6,51.5 244.2,52.5 241.0,53.0 C237.8,53.5 228.6,53.9 225.0,54.4 C221.4,54.9 216.3,56.7 214.0,56.4 C211.7,56.1 210.5,53.1 208.0,52.4 C205.5,51.7 197.9,51.5 195.0,51.0 C192.1,50.5 188.4,50.1 186.0,49.0 C183.6,47.9 179.3,44.5 177.0,43.0 C174.7,41.5 170.7,39.2 169.0,38.0 C167.3,36.8 165.1,35.1 164.6,34.0 C164.1,32.9 165.1,30.9 165.4,30.0 C165.7,29.1 165.7,27.5 167.0,27.0Z" fill="#31ffc5"/><g filter="url(#b0.7)"><ellipse cx="200.0" cy="44.0" rx="14.0" ry="5.0" fill="#19ffde" transform="rotate(10 200.0 44.0)"/><ellipse cx="262.0" cy="42.0" rx="4.0" ry="8.0" fill="#4affad" transform="rotate(0 262.0 42.0)"/><ellipse cx="167.0" cy="31.0" rx="4.0" ry="5.0" fill="#45ffb2" transform="rotate(0 167.0 31.0)"/></g></g><path d="M174.0,31.6 L181.0,32.0 L185.0,36.0 L188.0,42.0 L187.0,47.0 L183.0,48.0 L177.0,42.0 L172.0,37.0Z" fill="#06d6ee"/><path d="M174.0,31.6 L181.0,32.0 L185.0,36.0 L188.0,42.0 L187.0,47.0 L183.0,48.0 L177.0,42.0 L172.0,37.0Z" fill="url(#dots)" stroke="#000" stroke-width="1.10" stroke-linejoin="round"/><path d="M217.0,42.0 L235.0,42.0 L239.0,39.0 L257.0,39.0 L260.0,41.6 L260.0,48.0 L256.0,48.4 L253.0,46.0 L243.0,46.0 L239.0,49.0 L239.0,52.4 L210.0,52.4 L210.0,48.0Z" fill="#06d6ee"/><path d="M217.0,42.0 L235.0,42.0 L239.0,39.0 L257.0,39.0 L260.0,41.6 L260.0,48.0 L256.0,48.4 L253.0,46.0 L243.0,46.0 L239.0,49.0 L239.0,52.4 L210.0,52.4 L210.0,48.0Z" fill="url(#dots)" stroke="#000" stroke-width="1.10" stroke-linejoin="round"/><path d="M167.0,27.0 C168.3,26.5 173.0,25.9 175.0,26.0 C177.0,26.1 180.3,26.8 182.0,28.0 C183.7,29.2 185.9,33.8 188.0,35.0 C190.1,36.2 195.2,36.7 198.0,37.0 C200.8,37.3 206.9,37.3 209.0,37.0 C211.1,36.7 212.9,35.1 214.0,35.0 C215.1,34.9 214.2,36.7 217.0,36.6 C219.8,36.5 230.7,34.6 235.0,34.0 C239.3,33.4 245.7,32.5 249.0,32.4 C252.3,32.3 257.9,32.7 260.0,33.6 C262.1,34.5 264.1,37.5 264.6,39.0 C265.1,40.5 264.7,43.7 264.0,45.0 C263.3,46.3 261.0,48.2 259.0,49.0 C257.0,49.8 251.4,50.5 249.0,51.0 C246.6,51.5 244.2,52.5 241.0,53.0 C237.8,53.5 228.6,53.9 225.0,54.4 C221.4,54.9 216.3,56.7 214.0,56.4 C211.7,56.1 210.5,53.1 208.0,52.4 C205.5,51.7 197.9,51.5 195.0,51.0 C192.1,50.5 188.4,50.1 186.0,49.0 C183.6,47.9 179.3,44.5 177.0,43.0 C174.7,41.5 170.7,39.2 169.0,38.0 C167.3,36.8 165.1,35.1 164.6,34.0 C164.1,32.9 165.1,30.9 165.4,30.0 C165.7,29.1 165.7,27.5 167.0,27.0Z" fill="none" stroke="#000" stroke-width="0.90" stroke-linejoin="round"/>
<g clip-path="url(#c4)"><path d="M254.4,86.0 C254.5,84.7 257.3,82.8 259.0,82.0 C260.7,81.2 264.9,80.1 267.0,80.0 C269.1,79.9 273.3,80.3 275.0,81.0 C276.7,81.7 278.9,83.7 280.0,85.0 C281.1,86.3 282.9,89.7 283.0,91.0 C283.1,92.3 282.1,94.5 281.0,95.0 C279.9,95.5 276.6,95.4 275.0,95.0 C273.4,94.6 270.6,92.2 269.0,92.0 C267.4,91.8 264.5,93.6 263.0,93.6 C261.5,93.6 259.1,93.0 258.0,92.0 C256.9,91.0 254.3,87.3 254.4,86.0Z" fill="#3cffba"/><g filter="url(#b0.7)"><ellipse cx="272.0" cy="88.0" rx="6.0" ry="4.0" fill="#1effd9" transform="rotate(0 272.0 88.0)"/></g></g><path d="M268.6,87.0 L274.0,87.0 L282.0,93.0 L280.0,95.0 L274.0,94.4 L268.6,91.0Z" fill="#06d6ee"/><path d="M268.6,87.0 L274.0,87.0 L282.0,93.0 L280.0,95.0 L274.0,94.4 L268.6,91.0Z" fill="url(#dots)" stroke="#000" stroke-width="1.10" stroke-linejoin="round"/><path d="M254.4,86.0 C254.5,84.7 257.3,82.8 259.0,82.0 C260.7,81.2 264.9,80.1 267.0,80.0 C269.1,79.9 273.3,80.3 275.0,81.0 C276.7,81.7 278.9,83.7 280.0,85.0 C281.1,86.3 282.9,89.7 283.0,91.0 C283.1,92.3 282.1,94.5 281.0,95.0 C279.9,95.5 276.6,95.4 275.0,95.0 C273.4,94.6 270.6,92.2 269.0,92.0 C267.4,91.8 264.5,93.6 263.0,93.6 C261.5,93.6 259.1,93.0 258.0,92.0 C256.9,91.0 254.3,87.3 254.4,86.0Z" fill="none" stroke="#000" stroke-width="0.90" stroke-linejoin="round"/>
<g clip-path="url(#c5)"><path d="M43.6,165.0 C44.4,164.7 52.6,164.0 54.0,163.4 C55.4,162.8 58.5,157.6 60.0,157.6 C61.5,157.6 70.6,162.2 72.0,163.0 C73.4,163.8 76.0,166.3 76.4,167.0 C76.8,167.7 77.3,170.9 77.0,171.4 C76.7,171.9 73.4,172.6 73.0,173.0 C72.6,173.4 72.8,176.4 72.4,176.6 C72.0,176.8 68.8,175.1 68.0,175.0 C67.2,174.9 63.7,175.8 63.0,176.0 C62.3,176.2 60.6,177.5 60.0,177.4 C59.4,177.3 56.8,175.7 56.0,175.0 C55.2,174.3 51.9,170.1 51.0,169.4 C50.1,168.7 45.6,167.4 45.0,167.0 C44.4,166.6 42.9,165.3 43.6,165.0Z" fill="#1effd9"/><g filter="url(#b0.7)"><ellipse cx="68.5" cy="168.0" rx="4.5" ry="7.0" fill="#05ecf1" transform="rotate(-10 68.5 168.0)"/></g></g><path d="M55.0,163.0 L65.0,162.0 L68.4,166.0 L67.0,172.0 L63.0,176.0 L57.0,175.0 L52.0,170.0 L52.4,165.0Z" fill="#06d6ee"/><path d="M55.0,163.0 L65.0,162.0 L68.4,166.0 L67.0,172.0 L63.0,176.0 L57.0,175.0 L52.0,170.0 L52.4,165.0Z" fill="url(#dots)" stroke="#000" stroke-width="1.10" stroke-linejoin="round"/><path d="M43.6,165.0 C44.4,164.7 52.6,164.0 54.0,163.4 C55.4,162.8 58.5,157.6 60.0,157.6 C61.5,157.6 70.6,162.2 72.0,163.0 C73.4,163.8 76.0,166.3 76.4,167.0 C76.8,167.7 77.3,170.9 77.0,171.4 C76.7,171.9 73.4,172.6 73.0,173.0 C72.6,173.4 72.8,176.4 72.4,176.6 C72.0,176.8 68.8,175.1 68.0,175.0 C67.2,174.9 63.7,175.8 63.0,176.0 C62.3,176.2 60.6,177.5 60.0,177.4 C59.4,177.3 56.8,175.7 56.0,175.0 C55.2,174.3 51.9,170.1 51.0,169.4 C50.1,168.7 45.6,167.4 45.0,167.0 C44.4,166.6 42.9,165.3 43.6,165.0Z" fill="none" stroke="#000" stroke-width="0.90" stroke-linejoin="round"/>
<g clip-path="url(#c6)"><path d="M83.6,177.0 C83.9,175.9 84.9,173.8 86.0,173.0 C87.1,172.2 89.6,171.2 92.0,171.0 C94.4,170.8 101.1,170.9 104.0,171.4 C106.9,171.9 111.3,173.9 114.0,175.0 C116.7,176.1 121.3,178.8 124.0,180.0 C126.7,181.2 131.1,183.1 134.0,184.0 C136.9,184.9 143.5,186.3 146.0,187.0 C148.5,187.7 152.0,188.2 153.0,189.0 C154.0,189.8 154.3,192.3 153.6,193.0 C152.9,193.7 150.6,194.5 148.0,194.6 C145.4,194.7 136.9,193.6 134.0,194.0 C131.1,194.4 127.7,197.5 126.0,197.4 C124.3,197.3 124.5,193.6 121.0,193.0 C117.5,192.4 103.3,192.5 100.0,192.6 C96.7,192.7 97.6,194.3 96.0,193.4 C94.4,192.5 89.6,187.7 88.0,186.0 C86.4,184.3 84.6,182.2 84.0,181.0 C83.4,179.8 83.3,178.1 83.6,177.0Z" fill="#24ffd3"/><g filter="url(#b0.7)"><ellipse cx="90.0" cy="180.0" rx="7.0" ry="9.0" fill="#45ffb2" transform="rotate(-20 90.0 180.0)"/><ellipse cx="120.0" cy="188.0" rx="26.0" ry="5.0" fill="#13fde4" transform="rotate(12 120.0 188.0)"/></g></g><path d="M94.0,180.0 L102.0,180.0 L106.0,176.6 L114.0,183.0 L120.0,179.0 L128.0,185.0 L134.0,185.0 L135.0,191.0 L130.0,194.0 L124.0,196.6 L118.0,190.0 L112.0,186.0 L110.0,190.0 L102.0,190.0 L98.0,186.6 L94.0,186.6Z" fill="#06d6ee"/><path d="M94.0,180.0 L102.0,180.0 L106.0,176.6 L114.0,183.0 L120.0,179.0 L128.0,185.0 L134.0,185.0 L135.0,191.0 L130.0,194.0 L124.0,196.6 L118.0,190.0 L112.0,186.0 L110.0,190.0 L102.0,190.0 L98.0,186.6 L94.0,186.6Z" fill="url(#dots)" stroke="#000" stroke-width="1.10" stroke-linejoin="round"/><path d="M136.0,190.6 L146.0,192.0 L144.0,194.0Z" fill="#06d6ee"/><path d="M136.0,190.6 L146.0,192.0 L144.0,194.0Z" fill="url(#dots)" stroke="#000" stroke-width="1.10" stroke-linejoin="round"/><path d="M83.6,177.0 C83.9,175.9 84.9,173.8 86.0,173.0 C87.1,172.2 89.6,171.2 92.0,171.0 C94.4,170.8 101.1,170.9 104.0,171.4 C106.9,171.9 111.3,173.9 114.0,175.0 C116.7,176.1 121.3,178.8 124.0,180.0 C126.7,181.2 131.1,183.1 134.0,184.0 C136.9,184.9 143.5,186.3 146.0,187.0 C148.5,187.7 152.0,188.2 153.0,189.0 C154.0,189.8 154.3,192.3 153.6,193.0 C152.9,193.7 150.6,194.5 148.0,194.6 C145.4,194.7 136.9,193.6 134.0,194.0 C131.1,194.4 127.7,197.5 126.0,197.4 C124.3,197.3 124.5,193.6 121.0,193.0 C117.5,192.4 103.3,192.5 100.0,192.6 C96.7,192.7 97.6,194.3 96.0,193.4 C94.4,192.5 89.6,187.7 88.0,186.0 C86.4,184.3 84.6,182.2 84.0,181.0 C83.4,179.8 83.3,178.1 83.6,177.0Z" fill="none" stroke="#000" stroke-width="0.90" stroke-linejoin="round"/>
<g clip-path="url(#c7)"><path d="M115.7,142.1 C116.0,142.0 118.6,142.4 119.4,142.7 C120.2,143.0 124.1,144.7 125.5,145.2 C126.9,145.7 134.6,147.7 136.5,148.3 C138.4,148.9 146.8,151.2 148.8,151.9 C150.8,152.6 159.0,155.9 161.0,156.8 C163.0,157.7 171.2,162.0 173.3,163.0 C175.4,164.0 184.0,167.8 185.6,168.5 C187.2,169.2 191.9,171.2 192.3,171.6 C192.7,172.0 191.1,173.3 190.5,173.4 C189.9,173.5 186.6,173.0 185.6,172.8 C184.6,172.7 179.5,172.0 178.2,171.6 C176.9,171.2 170.8,169.0 169.6,168.5 C168.4,168.0 164.3,165.8 163.5,165.4 C162.7,165.0 160.3,163.6 159.8,163.6 C159.3,163.6 157.9,165.2 157.4,165.4 C156.9,165.6 154.3,165.7 153.7,165.4 C153.1,165.2 150.9,162.9 150.0,162.4 C149.1,161.9 143.9,160.3 142.7,159.9 C141.5,159.5 136.2,158.5 135.3,158.1 C134.4,157.7 132.1,156.2 131.6,155.6 C131.1,155.0 129.7,151.6 129.2,151.3 C128.7,151.0 126.5,152.1 126.1,151.9 C125.7,151.8 124.9,150.0 124.3,149.5 C123.7,149.0 120.1,146.9 119.4,146.4 C118.7,145.9 116.6,144.4 116.3,144.0 C116.0,143.6 115.4,142.2 115.7,142.1Z" fill="#1bffdb"/></g><path d="M136.5,150.7 L143.0,151.6 L148.8,153.2 L152.5,156.0 L156.5,155.8 L161.0,158.1 L165.0,161.6 L169.0,161.4 L173.3,163.6 L178.0,167.2 L184.4,168.5 L185.6,170.3 L185.6,172.6 L178.2,171.4 L173.5,168.0 L169.6,168.1 L163.5,165.2 L161.0,163.4 L157.0,163.6 L152.5,160.5 L148.0,159.8 L145.1,156.2 L141.0,155.6 L138.4,153.2Z" fill="#06d6ee"/><path d="M136.5,150.7 L143.0,151.6 L148.8,153.2 L152.5,156.0 L156.5,155.8 L161.0,158.1 L165.0,161.6 L169.0,161.4 L173.3,163.6 L178.0,167.2 L184.4,168.5 L185.6,170.3 L185.6,172.6 L178.2,171.4 L173.5,168.0 L169.6,168.1 L163.5,165.2 L161.0,163.4 L157.0,163.6 L152.5,160.5 L148.0,159.8 L145.1,156.2 L141.0,155.6 L138.4,153.2Z" fill="url(#dots)" stroke="#000" stroke-width="1.10" stroke-linejoin="round"/><path d="M115.7,142.1 C116.0,142.0 118.6,142.4 119.4,142.7 C120.2,143.0 124.1,144.7 125.5,145.2 C126.9,145.7 134.6,147.7 136.5,148.3 C138.4,148.9 146.8,151.2 148.8,151.9 C150.8,152.6 159.0,155.9 161.0,156.8 C163.0,157.7 171.2,162.0 173.3,163.0 C175.4,164.0 184.0,167.8 185.6,168.5 C187.2,169.2 191.9,171.2 192.3,171.6 C192.7,172.0 191.1,173.3 190.5,173.4 C189.9,173.5 186.6,173.0 185.6,172.8 C184.6,172.7 179.5,172.0 178.2,171.6 C176.9,171.2 170.8,169.0 169.6,168.5 C168.4,168.0 164.3,165.8 163.5,165.4 C162.7,165.0 160.3,163.6 159.8,163.6 C159.3,163.6 157.9,165.2 157.4,165.4 C156.9,165.6 154.3,165.7 153.7,165.4 C153.1,165.2 150.9,162.9 150.0,162.4 C149.1,161.9 143.9,160.3 142.7,159.9 C141.5,159.5 136.2,158.5 135.3,158.1 C134.4,157.7 132.1,156.2 131.6,155.6 C131.1,155.0 129.7,151.6 129.2,151.3 C128.7,151.0 126.5,152.1 126.1,151.9 C125.7,151.8 124.9,150.0 124.3,149.5 C123.7,149.0 120.1,146.9 119.4,146.4 C118.7,145.9 116.6,144.4 116.3,144.0 C116.0,143.6 115.4,142.2 115.7,142.1Z" fill="none" stroke="#000" stroke-width="0.90" stroke-linejoin="round"/>
<g clip-path="url(#c8)"><path d="M243.6,141.9 C243.6,140.4 245.1,138.0 246.4,137.0 C247.7,136.0 250.9,135.0 253.6,134.6 C256.3,134.2 263.0,134.1 266.4,134.3 C269.8,134.5 276.3,135.5 279.3,136.3 C282.3,137.1 287.2,139.1 289.0,140.3 C290.8,141.5 292.3,143.8 293.0,145.1 C293.7,146.4 294.8,148.9 294.6,149.9 C294.4,150.9 292.0,151.2 291.4,152.3 C290.8,153.4 290.8,157.0 289.8,158.0 C288.8,159.0 285.9,159.5 284.1,159.6 C282.3,159.7 278.0,159.0 276.1,158.8 C274.2,158.6 271.0,158.1 269.7,158.0 C268.4,157.9 267.7,158.2 266.4,158.0 C265.1,157.8 261.9,156.9 260.0,156.4 C258.1,155.9 253.8,155.0 252.0,153.9 C250.2,152.8 247.5,149.9 246.4,148.3 C245.3,146.7 243.6,143.4 243.6,141.9Z" fill="#31ffc5"/><g filter="url(#b0.7)"><ellipse cx="268.0" cy="148.0" rx="21.0" ry="8.5" fill="#0ef6e9" transform="rotate(12 268.0 148.0)"/></g></g><path d="M244.7,143.5 L248.8,141.1 L261.6,141.1 L265.6,137.9 L270.5,138.7 L272.9,141.1 L272.9,143.0 L277.7,144.0 L285.7,150.7 L283.3,154.7 L269.7,154.7 L263.2,149.1 L250.4,148.3Z" fill="#06d6ee"/><path d="M244.7,143.5 L248.8,141.1 L261.6,141.1 L265.6,137.9 L270.5,138.7 L272.9,141.1 L272.9,143.0 L277.7,144.0 L285.7,150.7 L283.3,154.7 L269.7,154.7 L263.2,149.1 L250.4,148.3Z" fill="url(#dots)" stroke="#000" stroke-width="1.10" stroke-linejoin="round"/><path d="M243.6,141.9 C243.6,140.4 245.1,138.0 246.4,137.0 C247.7,136.0 250.9,135.0 253.6,134.6 C256.3,134.2 263.0,134.1 266.4,134.3 C269.8,134.5 276.3,135.5 279.3,136.3 C282.3,137.1 287.2,139.1 289.0,140.3 C290.8,141.5 292.3,143.8 293.0,145.1 C293.7,146.4 294.8,148.9 294.6,149.9 C294.4,150.9 292.0,151.2 291.4,152.3 C290.8,153.4 290.8,157.0 289.8,158.0 C288.8,159.0 285.9,159.5 284.1,159.6 C282.3,159.7 278.0,159.0 276.1,158.8 C274.2,158.6 271.0,158.1 269.7,158.0 C268.4,157.9 267.7,158.2 266.4,158.0 C265.1,157.8 261.9,156.9 260.0,156.4 C258.1,155.9 253.8,155.0 252.0,153.9 C250.2,152.8 247.5,149.9 246.4,148.3 C245.3,146.7 243.6,143.4 243.6,141.9Z" fill="none" stroke="#000" stroke-width="0.90" stroke-linejoin="round"/>
<g clip-path="url(#c9)"><path d="M252.3,205.9 C252.3,204.7 253.5,202.0 254.1,200.6 C254.7,199.2 255.8,196.3 256.7,195.4 C257.6,194.5 259.5,194.2 260.6,194.1 C261.7,194.0 264.4,194.5 265.2,194.7 C266.0,194.9 266.1,195.9 266.5,195.8 C266.9,195.7 267.3,193.9 267.9,194.1 C268.5,194.3 269.9,196.3 271.1,197.3 C272.3,198.3 275.4,200.7 277.0,201.9 C278.6,203.1 282.0,205.4 283.0,206.5 C284.0,207.6 285.0,209.4 284.7,210.5 C284.4,211.6 282.4,213.6 281.0,214.4 C279.6,215.2 276.3,216.2 274.4,216.4 C272.5,216.6 268.6,216.4 266.5,216.0 C264.4,215.6 260.4,213.9 258.7,213.1 C257.0,212.3 255.0,210.8 254.1,209.8 C253.2,208.8 252.3,207.1 252.3,205.9Z" fill="#3cffba"/><g filter="url(#b0.7)"><ellipse cx="261.0" cy="199.0" rx="6.0" ry="4.0" fill="#4dffaa" transform="rotate(0 261.0 199.0)"/><ellipse cx="267.0" cy="209.0" rx="6.0" ry="4.5" fill="#1bffdb" transform="rotate(0 267.0 209.0)"/></g></g><path d="M252.3,205.9 C252.3,204.7 253.5,202.0 254.1,200.6 C254.7,199.2 255.8,196.3 256.7,195.4 C257.6,194.5 259.5,194.2 260.6,194.1 C261.7,194.0 264.4,194.5 265.2,194.7 C266.0,194.9 266.1,195.9 266.5,195.8 C266.9,195.7 267.3,193.9 267.9,194.1 C268.5,194.3 269.9,196.3 271.1,197.3 C272.3,198.3 275.4,200.7 277.0,201.9 C278.6,203.1 282.0,205.4 283.0,206.5 C284.0,207.6 285.0,209.4 284.7,210.5 C284.4,211.6 282.4,213.6 281.0,214.4 C279.6,215.2 276.3,216.2 274.4,216.4 C272.5,216.6 268.6,216.4 266.5,216.0 C264.4,215.6 260.4,213.9 258.7,213.1 C257.0,212.3 255.0,210.8 254.1,209.8 C253.2,208.8 252.3,207.1 252.3,205.9Z" fill="none" stroke="#000" stroke-width="0.90" stroke-linejoin="round"/>
<g clip-path="url(#c10)"><path d="M445.0,71.0 C444.9,69.3 446.6,68.5 448.0,67.0 C449.4,65.5 452.4,62.4 454.0,61.0 C455.6,59.6 457.5,58.1 459.0,58.0 C460.5,57.9 462.4,59.0 464.0,60.0 C465.6,61.0 467.8,63.6 470.0,65.0 C472.2,66.3 476.1,68.1 479.0,69.0 C481.9,69.9 486.0,71.2 489.0,71.0 C492.0,70.8 496.0,68.9 499.0,68.0 C502.0,67.1 506.3,65.5 509.0,65.0 C511.7,64.5 514.9,64.5 517.0,65.0 C519.1,65.5 520.9,66.8 523.0,68.0 C525.1,69.2 528.6,71.7 531.0,73.0 C533.4,74.3 536.3,75.8 539.0,77.0 C541.7,78.2 546.0,80.2 549.0,81.0 C552.0,81.8 556.3,81.9 559.0,82.0 C561.7,82.1 566.1,81.4 567.0,81.6 C567.9,81.8 566.5,82.7 565.0,83.4 C563.5,84.1 559.4,84.7 557.0,86.0 C554.6,87.3 551.1,90.2 549.0,92.0 C546.9,93.8 544.5,96.2 543.0,98.0 C541.5,99.8 540.8,102.8 539.0,104.0 C537.2,105.2 534.0,105.5 531.0,106.0 C528.0,106.5 522.9,107.2 519.0,107.0 C515.1,106.8 508.9,105.9 505.0,105.0 C501.1,104.1 496.9,102.3 493.0,101.0 C489.1,99.7 482.9,97.7 479.0,96.0 C475.1,94.3 470.3,91.8 467.0,90.0 C463.7,88.2 459.7,85.8 457.0,84.0 C454.3,82.2 450.8,80.0 449.0,78.0 C447.2,76.0 445.1,72.7 445.0,71.0Z" fill="#94ff63"/><g filter="url(#b1.0)"><ellipse cx="512.0" cy="106.0" rx="34.0" ry="4.5" fill="#c3ff34" transform="rotate(6 512.0 106.0)"/><ellipse cx="521.0" cy="106.8" rx="13.0" ry="3.2" fill="#ffe900" transform="rotate(0 521.0 106.8)"/><ellipse cx="541.0" cy="98.0" rx="3.5" ry="8.0" fill="#c8ff2f" transform="rotate(35 541.0 98.0)"/><ellipse cx="549.0" cy="88.0" rx="5.0" ry="6.0" fill="#afff47" transform="rotate(30 549.0 88.0)"/><ellipse cx="447.0" cy="72.0" rx="2.5" ry="6.0" fill="#b8ff3f" transform="rotate(20 447.0 72.0)"/><path d="M448.5,71.0 L452.0,66.0 L457.0,62.0 L460.5,61.5 L466.0,66.0 L474.0,69.5 L484.0,72.5 L494.0,72.0 L504.0,68.5 L512.0,67.5 L519.0,69.5 L527.0,74.0 L535.0,78.5 L541.0,82.0 L543.0,86.0 L538.0,93.0 L534.0,100.0 L528.0,102.5 L518.0,103.0 L506.0,101.5 L494.0,98.0 L481.0,93.5 L469.0,87.5 L459.0,81.5 L452.0,76.0Z" fill="#70ff86"/><path d="M451.0,71.0 L455.0,66.0 L459.0,64.5 L465.0,69.0 L474.0,72.5 L484.0,75.5 L494.0,75.0 L504.0,71.5 L512.0,70.5 L519.0,72.5 L526.0,77.0 L532.0,82.0 L534.0,88.0 L531.0,95.0 L526.0,99.0 L517.0,100.0 L506.0,98.5 L494.0,95.0 L482.0,90.5 L470.0,84.5 L460.0,79.0 L454.0,75.0Z" fill="#45ffb2"/><ellipse cx="471.0" cy="79.5" rx="15.0" ry="6.5" fill="#1bffdb" transform="rotate(24 471.0 79.5)"/><ellipse cx="514.0" cy="86.5" rx="13.5" ry="9.5" fill="#1bffdb" transform="rotate(8 514.0 86.5)"/><ellipse cx="461.0" cy="72.0" rx="4.0" ry="6.0" fill="#24ffd3" transform="rotate(-30 461.0 72.0)"/></g></g><path d="M465.6,78.0 L485.0,78.0 L485.0,89.4 L478.0,89.4Z" fill="#0ef6e9"/><path d="M465.6,78.0 L485.0,78.0 L485.0,89.4 L478.0,89.4Z" fill="url(#dots2)"/><path d="M459,67 L459,78 L485,78 L485,89.4 L478,89.4 L460,72.6" fill="none" stroke="#000" stroke-width="1.25" stroke-linejoin="round"/><path d="M504.6,78.0 L513.0,78.0 L524.0,90.0 L524.0,94.6 L504.6,94.6Z" fill="#0ef6e9"/><path d="M504.6,78.0 L513.0,78.0 L524.0,90.0 L524.0,94.6 L504.6,94.6Z" fill="url(#dots2)" stroke="#000" stroke-width="1.25" stroke-linejoin="round"/><path d="M445.0,71.0 C444.9,69.3 446.6,68.5 448.0,67.0 C449.4,65.5 452.4,62.4 454.0,61.0 C455.6,59.6 457.5,58.1 459.0,58.0 C460.5,57.9 462.4,59.0 464.0,60.0 C465.6,61.0 467.8,63.6 470.0,65.0 C472.2,66.3 476.1,68.1 479.0,69.0 C481.9,69.9 486.0,71.2 489.0,71.0 C492.0,70.8 496.0,68.9 499.0,68.0 C502.0,67.1 506.3,65.5 509.0,65.0 C511.7,64.5 514.9,64.5 517.0,65.0 C519.1,65.5 520.9,66.8 523.0,68.0 C525.1,69.2 528.6,71.7 531.0,73.0 C533.4,74.3 536.3,75.8 539.0,77.0 C541.7,78.2 546.0,80.2 549.0,81.0 C552.0,81.8 556.3,81.9 559.0,82.0 C561.7,82.1 566.1,81.4 567.0,81.6 C567.9,81.8 566.5,82.7 565.0,83.4 C563.5,84.1 559.4,84.7 557.0,86.0 C554.6,87.3 551.1,90.2 549.0,92.0 C546.9,93.8 544.5,96.2 543.0,98.0 C541.5,99.8 540.8,102.8 539.0,104.0 C537.2,105.2 534.0,105.5 531.0,106.0 C528.0,106.5 522.9,107.2 519.0,107.0 C515.1,106.8 508.9,105.9 505.0,105.0 C501.1,104.1 496.9,102.3 493.0,101.0 C489.1,99.7 482.9,97.7 479.0,96.0 C475.1,94.3 470.3,91.8 467.0,90.0 C463.7,88.2 459.7,85.8 457.0,84.0 C454.3,82.2 450.8,80.0 449.0,78.0 C447.2,76.0 445.1,72.7 445.0,71.0Z" fill="none" stroke="#000" stroke-width="1.10" stroke-linejoin="round"/>
<g clip-path="url(#c11)"><path d="M608.1,38.8 C608.3,38.3 611.3,38.1 612.3,37.5 C613.3,36.9 615.4,34.8 616.3,33.5 C617.2,32.2 618.7,27.8 619.6,26.3 C620.5,24.8 623.1,21.9 624.2,21.0 C625.3,20.1 628.2,18.8 629.4,18.4 C630.6,18.0 633.5,17.1 634.7,17.3 C635.9,17.5 638.5,19.6 639.3,20.0 C640.1,20.4 641.3,20.7 641.9,20.4 C642.5,20.1 644.2,17.0 644.5,17.7 C644.8,18.4 644.3,24.8 644.5,26.3 C644.7,27.8 645.3,30.0 645.8,30.9 C646.3,31.8 649.0,33.9 648.9,34.2 C648.8,34.5 646.2,33.7 645.2,33.5 C644.2,33.3 641.3,32.4 639.9,32.2 C638.5,32.0 634.8,31.9 633.4,32.2 C632.0,32.5 629.2,34.0 628.1,34.8 C627.0,35.6 625.2,38.0 624.2,38.8 C623.2,39.6 620.7,41.5 619.6,42.0 C618.5,42.5 616.1,43.5 615.0,43.4 C613.9,43.3 611.2,41.9 610.4,41.4 C609.6,40.9 607.9,39.3 608.1,38.8Z" fill="#70ff86"/><g filter="url(#b0.3)"><path d="M600.0,60.0 L600.0,10.0 L611.0,10.0 L640.0,42.0 L640.0,60.0Z" fill="#8cff6b"/></g></g><path d="M608.1,38.8 C608.3,38.3 611.3,38.1 612.3,37.5 C613.3,36.9 615.4,34.8 616.3,33.5 C617.2,32.2 618.7,27.8 619.6,26.3 C620.5,24.8 623.1,21.9 624.2,21.0 C625.3,20.1 628.2,18.8 629.4,18.4 C630.6,18.0 633.5,17.1 634.7,17.3 C635.9,17.5 638.5,19.6 639.3,20.0 C640.1,20.4 641.3,20.7 641.9,20.4 C642.5,20.1 644.2,17.0 644.5,17.7 C644.8,18.4 644.3,24.8 644.5,26.3 C644.7,27.8 645.3,30.0 645.8,30.9 C646.3,31.8 649.0,33.9 648.9,34.2 C648.8,34.5 646.2,33.7 645.2,33.5 C644.2,33.3 641.3,32.4 639.9,32.2 C638.5,32.0 634.8,31.9 633.4,32.2 C632.0,32.5 629.2,34.0 628.1,34.8 C627.0,35.6 625.2,38.0 624.2,38.8 C623.2,39.6 620.7,41.5 619.6,42.0 C618.5,42.5 616.1,43.5 615.0,43.4 C613.9,43.3 611.2,41.9 610.4,41.4 C609.6,40.9 607.9,39.3 608.1,38.8Z" fill="none" stroke="#000" stroke-width="0.90" stroke-linejoin="round"/>
<g clip-path="url(#c12)"><path d="M622.6,97.1 C623.2,97.1 626.5,99.4 628.1,101.0 C629.7,102.6 634.5,108.6 636.0,110.9 C637.5,113.2 640.4,118.5 641.2,120.7 C642.0,122.9 643.5,129.4 643.2,129.7 C642.9,130.0 639.9,125.1 638.6,123.4 C637.3,121.7 633.5,116.8 632.0,114.8 C630.5,112.8 626.6,107.9 625.5,106.3 C624.4,104.7 623.2,102.1 622.9,101.0 C622.6,99.9 622.0,97.1 622.6,97.1Z" fill="#6bff8c"/></g><path d="M622.6,97.1 C623.2,97.1 626.5,99.4 628.1,101.0 C629.7,102.6 634.5,108.6 636.0,110.9 C637.5,113.2 640.4,118.5 641.2,120.7 C642.0,122.9 643.5,129.4 643.2,129.7 C642.9,130.0 639.9,125.1 638.6,123.4 C637.3,121.7 633.5,116.8 632.0,114.8 C630.5,112.8 626.6,107.9 625.5,106.3 C624.4,104.7 623.2,102.1 622.9,101.0 C622.6,99.9 622.0,97.1 622.6,97.1Z" fill="none" stroke="#000" stroke-width="0.90" stroke-linejoin="round"/>
<g clip-path="url(#c13)"><path d="M29.3,384.9 C29.3,384.4 30.6,382.2 31.2,381.6 C31.8,381.0 34.1,378.7 34.9,378.4 C35.7,378.1 38.3,378.6 39.0,378.7 C39.7,378.8 41.1,379.8 41.8,379.8 C42.4,379.8 45.0,378.8 45.5,378.9 C46.0,379.0 47.1,380.2 47.3,380.7 C47.5,381.2 47.6,383.0 47.8,383.5 C48.0,384.0 49.8,385.2 49.7,385.8 C49.7,386.4 47.5,388.6 47.3,389.5 C47.1,390.4 48.0,393.6 47.8,394.6 C47.6,395.6 46.0,398.1 45.5,399.2 C45.0,400.3 43.1,404.5 42.7,405.2 C42.3,405.9 41.7,406.2 41.3,406.1 C40.9,406.1 39.3,405.3 39.0,404.7 C38.7,404.1 38.5,401.1 38.1,400.1 C37.7,399.1 35.4,395.6 34.9,394.6 C34.4,393.6 32.9,390.8 32.6,390.0 C32.3,389.2 31.9,387.2 31.6,386.7 C31.3,386.2 29.3,385.4 29.3,384.9Z" fill="#efff08"/><g filter="url(#b0.6)"><ellipse cx="35.2" cy="392.6" rx="2.0" ry="3.6" fill="#ff8700" transform="rotate(-25 35.2 392.6)"/><path d="M33.0,382.0 L37.0,380.2 L42.0,381.0 L46.0,381.5 L47.5,386.0 L46.0,390.0 L46.3,395.0 L44.0,399.5 L42.0,403.0 L40.4,401.0 L39.5,397.0 L37.0,392.5 L35.5,388.0 L33.5,385.5Z" fill="#a2ff55"/><ellipse cx="40.6" cy="392.0" rx="3.3" ry="8.2" fill="#60ff97" transform="rotate(-8 40.6 392.0)"/><ellipse cx="41.0" cy="393.0" rx="2.3" ry="6.4" fill="#2fffc8" transform="rotate(-8 41.0 393.0)"/></g></g><path d="M33.9,386.4 L38.7,382.2 L43.8,386.4 L41.9,387.9 L38.7,385.4 L35.9,387.9Z" fill="#2fffc8" stroke="#000" stroke-width="1.25" stroke-linejoin="round"/><circle cx="42.4" cy="396.7" r="0.75" fill="#000"/><path d="M29.3,384.9 C29.3,384.4 30.6,382.2 31.2,381.6 C31.8,381.0 34.1,378.7 34.9,378.4 C35.7,378.1 38.3,378.6 39.0,378.7 C39.7,378.8 41.1,379.8 41.8,379.8 C42.4,379.8 45.0,378.8 45.5,378.9 C46.0,379.0 47.1,380.2 47.3,380.7 C47.5,381.2 47.6,383.0 47.8,383.5 C48.0,384.0 49.8,385.2 49.7,385.8 C49.7,386.4 47.5,388.6 47.3,389.5 C47.1,390.4 48.0,393.6 47.8,394.6 C47.6,395.6 46.0,398.1 45.5,399.2 C45.0,400.3 43.1,404.5 42.7,405.2 C42.3,405.9 41.7,406.2 41.3,406.1 C40.9,406.1 39.3,405.3 39.0,404.7 C38.7,404.1 38.5,401.1 38.1,400.1 C37.7,399.1 35.4,395.6 34.9,394.6 C34.4,393.6 32.9,390.8 32.6,390.0 C32.3,389.2 31.9,387.2 31.6,386.7 C31.3,386.2 29.3,385.4 29.3,384.9Z" fill="none" stroke="#000" stroke-width="1.20" stroke-linejoin="round"/>
<g clip-path="url(#c14)"><path d="M17.9,456.1 C18.0,455.8 18.4,455.0 18.8,454.9 C19.2,454.8 21.0,454.8 21.7,454.9 C22.4,455.0 25.2,455.9 25.8,455.8 C26.4,455.7 27.6,454.2 28.1,453.7 C28.6,453.2 29.9,451.5 30.4,451.1 C30.9,450.7 32.8,449.8 33.4,449.6 C34.0,449.4 35.8,449.2 36.3,449.3 C36.8,449.4 37.8,450.5 38.0,450.8 C38.2,451.1 38.2,452.0 38.0,452.6 C37.8,453.2 36.2,455.7 35.7,456.4 C35.2,457.1 33.9,459.2 33.4,459.9 C32.9,460.6 31.4,463.1 31.0,463.4 C30.6,463.7 29.7,463.4 29.3,463.1 C28.9,462.8 27.4,461.0 26.9,460.7 C26.4,460.4 24.7,460.1 24.0,459.9 C23.3,459.7 20.5,459.2 19.9,459.0 C19.3,458.8 18.4,457.8 18.2,457.5 C18.0,457.2 17.8,456.4 17.9,456.1Z" fill="#f7f600"/><g filter="url(#b0.5)"><ellipse cx="30.0" cy="462.0" rx="1.6" ry="1.6" fill="#ff9700" transform="rotate(0 30.0 462.0)"/><path d="M20.5,456.6 L25.5,457.6 L29.0,455.4 L31.5,452.3 L35.5,450.7 L36.6,452.2 L34.0,456.4 L31.5,459.6 L29.0,460.3 L25.0,458.9 L21.0,458.1Z" fill="#a2ff55"/><ellipse cx="31.6" cy="455.6" rx="1.5" ry="4.4" fill="#55ffa2" transform="rotate(38 31.6 455.6)"/></g></g><path d="M17.9,456.1 C18.0,455.8 18.4,455.0 18.8,454.9 C19.2,454.8 21.0,454.8 21.7,454.9 C22.4,455.0 25.2,455.9 25.8,455.8 C26.4,455.7 27.6,454.2 28.1,453.7 C28.6,453.2 29.9,451.5 30.4,451.1 C30.9,450.7 32.8,449.8 33.4,449.6 C34.0,449.4 35.8,449.2 36.3,449.3 C36.8,449.4 37.8,450.5 38.0,450.8 C38.2,451.1 38.2,452.0 38.0,452.6 C37.8,453.2 36.2,455.7 35.7,456.4 C35.2,457.1 33.9,459.2 33.4,459.9 C32.9,460.6 31.4,463.1 31.0,463.4 C30.6,463.7 29.7,463.4 29.3,463.1 C28.9,462.8 27.4,461.0 26.9,460.7 C26.4,460.4 24.7,460.1 24.0,459.9 C23.3,459.7 20.5,459.2 19.9,459.0 C19.3,458.8 18.4,457.8 18.2,457.5 C18.0,457.2 17.8,456.4 17.9,456.1Z" fill="none" stroke="#000" stroke-width="1.20" stroke-linejoin="round"/>
<g clip-path="url(#c15)"><path d="M77.2,429.0 C77.3,428.0 77.4,426.5 77.9,425.6 C78.4,424.7 79.2,423.9 80.1,423.5 C81.0,423.1 82.3,422.9 83.5,423.0 C84.7,423.1 86.1,423.4 87.3,423.9 C88.5,424.4 89.7,425.2 90.7,425.9 C91.8,426.6 92.9,427.2 93.6,428.0 C94.3,428.8 94.8,429.6 94.8,430.4 C94.8,431.2 94.3,432.0 93.6,432.8 C92.9,433.6 91.8,434.4 90.7,435.0 C89.7,435.6 88.3,436.1 87.3,436.4 C86.2,436.7 85.4,437.0 84.4,436.9 C83.4,436.8 82.4,436.5 81.5,436.0 C80.6,435.5 79.6,434.6 78.9,433.8 C78.2,433.0 77.8,432.2 77.5,431.4 C77.2,430.6 77.1,430.0 77.2,429.0Z" fill="#f7f600"/><g filter="url(#b0.7)"><ellipse cx="83.4" cy="435.6" rx="4.6" ry="1.7" fill="#ffad00" transform="rotate(12 83.4 435.6)"/><ellipse cx="86.0" cy="429.6" rx="6.6" ry="4.6" fill="#c3ff34" transform="rotate(12 86.0 429.6)"/><ellipse cx="84.6" cy="429.8" rx="3.8" ry="3.2" fill="#97ff60" transform="rotate(0 84.6 429.8)"/><ellipse cx="84.0" cy="429.9" rx="2.2" ry="1.9" fill="#5aff9c" transform="rotate(0 84.0 429.9)"/></g></g><path d="M77.2,429.0 C77.3,428.0 77.4,426.5 77.9,425.6 C78.4,424.7 79.2,423.9 80.1,423.5 C81.0,423.1 82.3,422.9 83.5,423.0 C84.7,423.1 86.1,423.4 87.3,423.9 C88.5,424.4 89.7,425.2 90.7,425.9 C91.8,426.6 92.9,427.2 93.6,428.0 C94.3,428.8 94.8,429.6 94.8,430.4 C94.8,431.2 94.3,432.0 93.6,432.8 C92.9,433.6 91.8,434.4 90.7,435.0 C89.7,435.6 88.3,436.1 87.3,436.4 C86.2,436.7 85.4,437.0 84.4,436.9 C83.4,436.8 82.4,436.5 81.5,436.0 C80.6,435.5 79.6,434.6 78.9,433.8 C78.2,433.0 77.8,432.2 77.5,431.4 C77.2,430.6 77.1,430.0 77.2,429.0Z" fill="none" stroke="#000" stroke-width="1.20" stroke-linejoin="round"/>
<g clip-path="url(#c16)"><path d="M107.9,413.2 C107.9,412.8 109.4,411.5 109.8,411.3 C110.2,411.1 112.6,410.7 113.2,410.8 C113.8,410.9 115.9,412.2 116.5,412.2 C117.1,412.2 119.7,411.5 120.4,411.3 C121.1,411.1 124.2,410.0 125.2,409.8 C126.2,409.6 130.9,409.5 131.9,409.3 C132.9,409.1 136.1,408.2 136.8,407.9 C137.5,407.6 140.0,406.0 140.6,405.5 C141.2,405.0 143.9,402.1 144.5,401.6 C145.1,401.1 147.7,400.0 148.3,399.7 C148.9,399.4 150.6,398.4 151.2,398.3 C151.8,398.2 155.1,398.1 156.0,398.0 C156.9,397.9 161.1,397.4 161.8,397.3 C162.5,397.2 164.4,397.2 164.7,397.3 C165.0,397.4 165.7,398.4 165.5,398.7 C165.3,399.0 163.4,400.4 162.8,400.7 C162.2,401.0 159.5,402.2 158.9,402.6 C158.3,403.0 155.7,404.9 155.1,405.5 C154.5,406.1 151.8,408.7 151.2,409.3 C150.6,409.9 148.1,411.6 147.8,412.2 C147.5,412.8 148.0,415.4 147.8,416.1 C147.6,416.8 145.8,420.1 145.4,420.9 C145.0,421.7 143.3,425.0 143.0,425.7 C142.7,426.4 142.5,428.5 142.1,429.1 C141.7,429.7 138.4,432.0 137.7,432.5 C137.0,433.0 134.6,435.0 133.9,435.4 C133.2,435.8 129.8,436.6 129.0,436.8 C128.2,437.0 124.8,438.2 124.2,438.2 C123.6,438.2 122.5,436.7 122.3,436.3 C122.1,435.9 121.6,434.0 121.3,433.4 C121.0,432.8 119.0,429.3 118.5,428.6 C118.0,427.9 116.0,425.3 115.6,424.8 C115.2,424.3 113.5,423.3 113.2,422.8 C112.9,422.3 112.5,419.6 112.2,419.0 C111.9,418.4 110.2,416.1 109.8,415.6 C109.4,415.1 107.9,413.6 107.9,413.2Z" fill="#f7f600"/><g filter="url(#b0.6)"><path d="M111.0,418.0 L114.5,420.5 L117.5,425.0 L121.0,429.5 L126.0,430.5 L132.0,430.0 L137.0,428.0 L141.0,424.0 L143.5,418.0 L145.0,413.0 L150.0,414.0 L147.0,424.0 L143.0,431.0 L136.0,436.0 L126.0,441.0 L120.0,438.0 L113.0,426.0Z" fill="#ffba00"/><path d="M122.6,431.8 L128.1,430.8 L132.9,431.5 L134.5,434.6 L129.0,437.5 L124.0,439.0 L122.0,435.3Z" fill="#ff8100"/><path d="M110.5,413.4 L113.0,412.6 L116.5,414.0 L121.0,413.0 L126.0,411.5 L132.0,411.0 L137.5,409.5 L141.5,407.0 L145.0,403.2 L149.0,401.0 L153.0,399.8 L158.0,399.5 L162.0,398.9 L158.0,401.5 L154.0,404.0 L150.5,407.5 L147.0,410.5 L146.0,414.0 L144.5,418.5 L142.0,423.0 L138.5,426.5 L133.0,428.3 L126.0,428.6 L121.5,427.5 L118.5,424.0 L115.0,419.5 L112.0,416.0Z" fill="#89ff6e"/><path d="M114.5,415.2 L120.0,415.0 L126.0,413.2 L132.0,412.6 L138.0,411.0 L142.5,408.5 L146.0,404.6 L150.0,402.4 L155.0,401.0 L151.0,404.5 L147.5,408.0 L144.5,411.5 L143.5,416.0 L141.5,420.5 L138.0,424.5 L132.5,426.6 L126.0,426.8 L122.0,425.6 L119.5,422.0 L117.0,418.5Z" fill="#50ffa7"/><ellipse cx="131.0" cy="420.0" rx="11.0" ry="5.6" fill="#2fffc8" transform="rotate(-14 131.0 420.0)"/></g></g><path d="M121.4,419.8 C121.6,419.2 123.8,417.5 124.4,417.1 C125.0,416.7 127.8,414.9 129.0,414.7 C130.2,414.5 137.5,414.4 138.5,414.5 C139.5,414.6 141.1,416.0 141.0,416.5 C140.9,417.0 137.5,420.2 136.8,421.0 C136.1,421.8 133.7,425.3 132.6,425.7 C131.5,426.1 124.7,425.9 123.8,425.7 C122.9,425.5 121.7,424.3 121.5,423.8 C121.3,423.3 121.2,420.4 121.4,419.8Z" fill="#10f2ee"/><path d="M121.4,419.8 C121.6,419.2 123.8,417.5 124.4,417.1 C125.0,416.7 127.8,414.9 129.0,414.7 C130.2,414.5 137.5,414.4 138.5,414.5 C139.5,414.6 141.1,416.0 141.0,416.5 C140.9,417.0 137.5,420.2 136.8,421.0 C136.1,421.8 133.7,425.3 132.6,425.7 C131.5,426.1 124.7,425.9 123.8,425.7 C122.9,425.5 121.7,424.3 121.5,423.8 C121.3,423.3 121.2,420.4 121.4,419.8Z" fill="url(#dots3)" stroke="#000" stroke-width="1.4" stroke-linejoin="round"/><path d="M107.9,413.2 C107.9,412.8 109.4,411.5 109.8,411.3 C110.2,411.1 112.6,410.7 113.2,410.8 C113.8,410.9 115.9,412.2 116.5,412.2 C117.1,412.2 119.7,411.5 120.4,411.3 C121.1,411.1 124.2,410.0 125.2,409.8 C126.2,409.6 130.9,409.5 131.9,409.3 C132.9,409.1 136.1,408.2 136.8,407.9 C137.5,407.6 140.0,406.0 140.6,405.5 C141.2,405.0 143.9,402.1 144.5,401.6 C145.1,401.1 147.7,400.0 148.3,399.7 C148.9,399.4 150.6,398.4 151.2,398.3 C151.8,398.2 155.1,398.1 156.0,398.0 C156.9,397.9 161.1,397.4 161.8,397.3 C162.5,397.2 164.4,397.2 164.7,397.3 C165.0,397.4 165.7,398.4 165.5,398.7 C165.3,399.0 163.4,400.4 162.8,400.7 C162.2,401.0 159.5,402.2 158.9,402.6 C158.3,403.0 155.7,404.9 155.1,405.5 C154.5,406.1 151.8,408.7 151.2,409.3 C150.6,409.9 148.1,411.6 147.8,412.2 C147.5,412.8 148.0,415.4 147.8,416.1 C147.6,416.8 145.8,420.1 145.4,420.9 C145.0,421.7 143.3,425.0 143.0,425.7 C142.7,426.4 142.5,428.5 142.1,429.1 C141.7,429.7 138.4,432.0 137.7,432.5 C137.0,433.0 134.6,435.0 133.9,435.4 C133.2,435.8 129.8,436.6 129.0,436.8 C128.2,437.0 124.8,438.2 124.2,438.2 C123.6,438.2 122.5,436.7 122.3,436.3 C122.1,435.9 121.6,434.0 121.3,433.4 C121.0,432.8 119.0,429.3 118.5,428.6 C118.0,427.9 116.0,425.3 115.6,424.8 C115.2,424.3 113.5,423.3 113.2,422.8 C112.9,422.3 112.5,419.6 112.2,419.0 C111.9,418.4 110.2,416.1 109.8,415.6 C109.4,415.1 107.9,413.6 107.9,413.2Z" fill="none" stroke="#000" stroke-width="1.20" stroke-linejoin="round"/>
<g clip-path="url(#c17)"><path d="M195.1,426.6 C195.3,426.6 198.1,427.7 198.6,427.8 C199.1,427.9 204.2,428.5 204.8,428.5 C205.4,428.5 210.5,428.1 211.0,428.1 C211.5,428.1 213.9,427.9 214.1,427.8 C214.3,427.7 214.4,425.9 214.5,425.8 C214.6,425.7 216.4,425.7 216.5,425.8 C216.6,425.9 216.1,428.1 216.1,428.5 C216.1,428.9 216.4,432.8 216.5,433.2 C216.6,433.6 218.6,435.9 218.8,436.3 C219.0,436.7 219.6,439.8 219.6,440.2 C219.6,440.6 219.3,442.9 219.2,443.3 C219.1,443.7 217.4,446.8 217.2,447.2 C217.0,447.6 215.2,450.0 214.9,450.3 C214.6,450.6 210.7,453.1 210.3,453.4 C209.9,453.7 207.8,455.4 207.5,455.6 C207.2,455.8 205.2,456.6 204.8,456.6 C204.4,456.6 200.7,455.5 200.2,455.3 C199.7,455.1 195.2,452.9 194.7,452.6 C194.2,452.3 190.5,449.2 190.1,448.7 C189.7,448.2 187.2,443.8 187.0,443.3 C186.8,442.8 186.5,439.7 186.6,439.4 C186.7,439.1 188.2,437.3 188.5,437.1 C188.8,436.9 192.1,435.0 192.4,434.7 C192.7,434.4 194.3,431.9 194.4,431.6 C194.5,431.3 194.7,428.8 194.7,428.5 C194.7,428.2 194.9,426.6 195.1,426.6Z" fill="#f7f600"/><g filter="url(#b0.6)"><path d="M185.0,437.5 L191.0,437.0 L196.5,438.0 L195.0,440.5 L191.0,441.5 L195.0,443.5 L199.0,445.5 L203.0,449.0 L207.0,447.0 L212.0,445.5 L216.0,446.0 L216.0,460.0 L185.0,460.0Z" fill="#ffc000"/><path d="M214.5,435.0 L217.0,434.0 L221.0,437.0 L221.0,445.0 L216.0,446.5 L215.0,443.0 L216.5,440.0Z" fill="#ffc000"/><path d="M186.0,446.5 L192.0,445.8 L197.0,447.5 L201.0,450.5 L205.0,451.2 L209.0,449.0 L212.5,447.0 L216.0,449.0 L216.0,460.0 L186.0,460.0Z" fill="#ff8e00"/><path d="M197.5,432.0 L201.0,430.0 L206.0,430.5 L211.0,431.5 L214.5,435.0 L215.5,439.0 L213.5,443.0 L209.5,444.5 L206.0,449.5 L203.0,445.5 L198.5,444.5 L196.5,441.5 L198.5,438.5 L196.0,435.0Z" fill="#c3ff34"/><path d="M199.5,434.0 L203.0,433.0 L207.0,433.5 L210.5,436.5 L211.5,440.5 L209.0,443.5 L204.0,444.0 L200.0,442.5 L199.0,439.0Z" fill="#7bff7b"/><ellipse cx="205.0" cy="439.8" rx="4.6" ry="3.6" fill="#3affbd" transform="rotate(0 205.0 439.8)"/></g></g><path d="M203.6,438.6 L206.4,439.8 L206.8,441.7 L204.2,441.8Z" fill="#000" stroke="#000" stroke-width="0.8" stroke-linejoin="round"/><path d="M195.1,426.6 C195.3,426.6 198.1,427.7 198.6,427.8 C199.1,427.9 204.2,428.5 204.8,428.5 C205.4,428.5 210.5,428.1 211.0,428.1 C211.5,428.1 213.9,427.9 214.1,427.8 C214.3,427.7 214.4,425.9 214.5,425.8 C214.6,425.7 216.4,425.7 216.5,425.8 C216.6,425.9 216.1,428.1 216.1,428.5 C216.1,428.9 216.4,432.8 216.5,433.2 C216.6,433.6 218.6,435.9 218.8,436.3 C219.0,436.7 219.6,439.8 219.6,440.2 C219.6,440.6 219.3,442.9 219.2,443.3 C219.1,443.7 217.4,446.8 217.2,447.2 C217.0,447.6 215.2,450.0 214.9,450.3 C214.6,450.6 210.7,453.1 210.3,453.4 C209.9,453.7 207.8,455.4 207.5,455.6 C207.2,455.8 205.2,456.6 204.8,456.6 C204.4,456.6 200.7,455.5 200.2,455.3 C199.7,455.1 195.2,452.9 194.7,452.6 C194.2,452.3 190.5,449.2 190.1,448.7 C189.7,448.2 187.2,443.8 187.0,443.3 C186.8,442.8 186.5,439.7 186.6,439.4 C186.7,439.1 188.2,437.3 188.5,437.1 C188.8,436.9 192.1,435.0 192.4,434.7 C192.7,434.4 194.3,431.9 194.4,431.6 C194.5,431.3 194.7,428.8 194.7,428.5 C194.7,428.2 194.9,426.6 195.1,426.6Z" fill="none" stroke="#000" stroke-width="1.20" stroke-linejoin="round"/>
<g clip-path="url(#c18)"><path d="M326.7,376.1 C326.9,375.7 329.1,373.8 329.4,373.0 C329.7,372.2 329.7,369.4 330.1,368.4 C330.5,367.4 332.7,364.0 333.6,363.3 C334.5,362.6 338.0,361.5 339.1,361.0 C340.2,360.5 343.3,359.0 344.5,358.7 C345.7,358.4 349.8,358.6 350.7,358.3 C351.6,358.0 352.6,356.2 353.0,355.6 C353.4,355.0 354.3,352.9 354.2,352.5 C354.1,352.1 351.8,352.1 351.7,351.6 C351.6,351.1 352.6,348.1 353.0,347.8 C353.4,347.5 355.1,347.9 355.4,348.2 C355.7,348.5 355.3,350.0 355.7,350.5 C356.1,351.0 358.9,352.3 359.2,352.9 C359.5,353.4 358.7,355.3 358.5,356.0 C358.3,356.7 357.1,358.9 356.9,359.8 C356.7,360.7 357.1,363.7 356.9,364.5 C356.7,365.3 355.2,367.4 354.6,368.0 C354.0,368.6 351.6,369.8 350.7,370.3 C349.8,370.8 347.0,372.2 346.0,372.6 C345.0,373.0 341.5,373.4 340.6,373.8 C339.7,374.2 337.4,375.6 336.7,376.1 C336.0,376.6 334.6,378.9 334.0,379.1 C333.4,379.3 331.2,378.3 330.5,378.1 C329.8,377.9 327.8,377.5 327.4,377.3 C327.0,377.1 326.5,376.5 326.7,376.1Z" fill="#c3ff34"/><g filter="url(#b0.6)"><path d="M325.0,380.0 L329.0,372.0 L331.0,366.5 L333.5,369.0 L333.0,374.0 L336.0,376.0 L334.0,381.0Z" fill="#ffc000"/><path d="M340.0,373.0 L346.0,369.5 L351.0,367.0 L355.0,366.0 L356.0,369.0 L350.0,372.0 L344.0,374.5Z" fill="#ffb700"/><path d="M343.0,361.0 L349.0,359.5 L353.0,361.0 L351.0,364.5 L345.0,366.0 L342.0,364.0Z" fill="#f4f903"/><path d="M333.0,374.0 L336.0,370.0 L340.0,372.0 L337.0,375.5Z" fill="#efff08"/><path d="M352.0,358.0 L354.0,354.0 L355.5,351.0 L359.0,353.0 L358.0,357.0 L356.0,361.0 L355.0,365.0 L352.0,364.0Z" fill="#81ff76"/><ellipse cx="338.0" cy="366.5" rx="2.5" ry="1.6" fill="#97ff60" transform="rotate(0 338.0 366.5)"/></g></g><path d="M351.9,351.8 L355.8,350.6" stroke="#000" stroke-width="1.1"/><path d="M326.7,376.1 C326.9,375.7 329.1,373.8 329.4,373.0 C329.7,372.2 329.7,369.4 330.1,368.4 C330.5,367.4 332.7,364.0 333.6,363.3 C334.5,362.6 338.0,361.5 339.1,361.0 C340.2,360.5 343.3,359.0 344.5,358.7 C345.7,358.4 349.8,358.6 350.7,358.3 C351.6,358.0 352.6,356.2 353.0,355.6 C353.4,355.0 354.3,352.9 354.2,352.5 C354.1,352.1 351.8,352.1 351.7,351.6 C351.6,351.1 352.6,348.1 353.0,347.8 C353.4,347.5 355.1,347.9 355.4,348.2 C355.7,348.5 355.3,350.0 355.7,350.5 C356.1,351.0 358.9,352.3 359.2,352.9 C359.5,353.4 358.7,355.3 358.5,356.0 C358.3,356.7 357.1,358.9 356.9,359.8 C356.7,360.7 357.1,363.7 356.9,364.5 C356.7,365.3 355.2,367.4 354.6,368.0 C354.0,368.6 351.6,369.8 350.7,370.3 C349.8,370.8 347.0,372.2 346.0,372.6 C345.0,373.0 341.5,373.4 340.6,373.8 C339.7,374.2 337.4,375.6 336.7,376.1 C336.0,376.6 334.6,378.9 334.0,379.1 C333.4,379.3 331.2,378.3 330.5,378.1 C329.8,377.9 327.8,377.5 327.4,377.3 C327.0,377.1 326.5,376.5 326.7,376.1Z" fill="none" stroke="#000" stroke-width="1.20" stroke-linejoin="round"/>
<g clip-path="url(#c19)"><path d="M281.8,432.5 C281.7,432.2 282.6,430.7 283.4,430.4 C284.2,430.1 288.5,430.1 289.8,429.8 C291.1,429.5 295.1,427.8 296.2,427.2 C297.3,426.6 300.3,424.3 301.0,423.4 C301.7,422.5 302.8,419.6 303.2,418.6 C303.6,417.6 304.3,414.4 304.8,413.2 C305.3,412.0 307.9,408.0 308.6,406.8 C309.4,405.6 311.6,402.1 312.3,400.9 C313.0,399.7 315.0,396.2 315.5,395.0 C316.0,393.8 317.2,389.5 317.7,388.6 C318.2,387.7 320.0,386.2 320.9,385.9 C321.8,385.5 325.3,384.9 326.2,385.1 C327.1,385.3 329.5,387.1 330.0,388.0 C330.5,388.9 331.1,392.7 331.1,393.9 C331.1,395.1 330.3,399.2 330.0,400.4 C329.7,401.6 327.9,404.8 327.8,405.7 C327.8,406.6 329.6,408.0 329.5,408.9 C329.4,409.8 327.3,413.3 326.8,414.3 C326.3,415.3 324.8,418.4 324.1,419.1 C323.4,419.9 320.9,421.4 319.8,421.8 C318.7,422.2 314.7,422.6 313.4,422.9 C312.1,423.2 308.1,424.4 306.9,425.0 C305.7,425.6 302.5,428.1 301.6,428.8 C300.8,429.6 299.1,431.9 298.4,432.5 C297.6,433.1 295.1,434.5 294.1,434.7 C293.1,434.9 289.7,434.9 288.7,434.7 C287.7,434.5 285.1,433.3 284.4,433.1 C283.7,432.9 281.9,432.8 281.8,432.5Z" fill="#f4f903"/><g filter="url(#b0.6)"><path d="M296.0,432.0 L300.0,424.0 L303.0,416.0 L306.0,409.0 L311.0,401.0 L315.0,394.0 L318.0,395.0 L319.0,401.0 L318.5,406.0 L321.0,411.0 L322.0,417.0 L319.5,422.5 L313.0,424.0 L307.0,426.0 L302.0,430.0 L298.0,434.0Z" fill="#ffba00"/><path d="M297.5,431.0 L301.0,425.0 L304.5,421.5 L308.0,418.5 L312.0,416.5 L316.0,417.5 L319.0,420.5 L316.0,423.5 L310.0,424.5 L305.0,427.5 L300.5,431.0Z" fill="#ff8100"/><ellipse cx="312.6" cy="409.0" rx="2.6" ry="3.6" fill="#efff08" transform="rotate(10 312.6 409.0)"/><ellipse cx="312.8" cy="408.4" rx="1.3" ry="2.2" fill="#a7ff50" transform="rotate(10 312.8 408.4)"/><ellipse cx="306.5" cy="419.0" rx="1.3" ry="1.3" fill="#f4f903" transform="rotate(0 306.5 419.0)"/><ellipse cx="324.2" cy="396.4" rx="2.2" ry="4.2" fill="#a7ff50" transform="rotate(25 324.2 396.4)"/><ellipse cx="291.5" cy="432.2" rx="3.4" ry="1.2" fill="#adff4a" transform="rotate(-15 291.5 432.2)"/><ellipse cx="284.0" cy="432.0" rx="2.4" ry="1.2" fill="#ffba00" transform="rotate(0 284.0 432.0)"/></g></g><path d="M281.8,432.5 C281.7,432.2 282.6,430.7 283.4,430.4 C284.2,430.1 288.5,430.1 289.8,429.8 C291.1,429.5 295.1,427.8 296.2,427.2 C297.3,426.6 300.3,424.3 301.0,423.4 C301.7,422.5 302.8,419.6 303.2,418.6 C303.6,417.6 304.3,414.4 304.8,413.2 C305.3,412.0 307.9,408.0 308.6,406.8 C309.4,405.6 311.6,402.1 312.3,400.9 C313.0,399.7 315.0,396.2 315.5,395.0 C316.0,393.8 317.2,389.5 317.7,388.6 C318.2,387.7 320.0,386.2 320.9,385.9 C321.8,385.5 325.3,384.9 326.2,385.1 C327.1,385.3 329.5,387.1 330.0,388.0 C330.5,388.9 331.1,392.7 331.1,393.9 C331.1,395.1 330.3,399.2 330.0,400.4 C329.7,401.6 327.9,404.8 327.8,405.7 C327.8,406.6 329.6,408.0 329.5,408.9 C329.4,409.8 327.3,413.3 326.8,414.3 C326.3,415.3 324.8,418.4 324.1,419.1 C323.4,419.9 320.9,421.4 319.8,421.8 C318.7,422.2 314.7,422.6 313.4,422.9 C312.1,423.2 308.1,424.4 306.9,425.0 C305.7,425.6 302.5,428.1 301.6,428.8 C300.8,429.6 299.1,431.9 298.4,432.5 C297.6,433.1 295.1,434.5 294.1,434.7 C293.1,434.9 289.7,434.9 288.7,434.7 C287.7,434.5 285.1,433.3 284.4,433.1 C283.7,432.9 281.9,432.8 281.8,432.5Z" fill="none" stroke="#000" stroke-width="1.20" stroke-linejoin="round"/>
<g clip-path="url(#c20)"><path d="M427.5,272.5 C427.6,271.8 428.8,268.6 429.5,267.9 C430.2,267.2 433.3,265.5 434.2,265.1 C435.1,264.7 438.0,264.7 438.8,264.2 C439.6,263.7 441.6,261.2 442.5,260.5 C443.4,259.8 446.8,257.8 448.0,257.2 C449.2,256.6 453.2,255.0 454.5,254.5 C455.8,254.0 459.7,252.0 460.9,251.9 C462.1,251.8 465.5,253.2 466.5,253.5 C467.5,253.8 470.5,254.0 471.1,254.5 C471.7,255.0 471.9,257.6 472.5,258.2 C473.1,258.8 475.9,260.2 476.6,260.9 C477.3,261.6 479.3,264.3 479.4,265.1 C479.5,265.9 478.2,268.4 477.6,269.2 C477.0,270.0 473.9,272.2 472.9,272.9 C471.9,273.6 468.5,275.9 467.4,276.6 C466.3,277.3 462.9,279.5 461.9,280.3 C460.9,281.1 458.0,284.0 457.2,284.9 C456.4,285.8 454.4,288.9 453.5,289.6 C452.6,290.3 449.2,291.6 448.0,291.9 C446.8,292.2 442.7,292.2 441.5,292.3 C440.3,292.4 436.8,293.4 436.0,293.2 C435.2,293.0 434.0,291.4 433.7,290.5 C433.4,289.6 433.4,285.3 433.2,284.0 C433.0,282.7 432.3,278.4 431.8,277.5 C431.3,276.6 429.0,275.7 428.6,275.2 C428.2,274.7 427.4,273.2 427.5,272.5Z" fill="#faf200"/><g filter="url(#b0.55)"><path d="M430.5,268.0 L436.0,266.5 L441.0,265.0 L446.0,261.5 L452.0,259.5 L458.0,257.0 L464.0,256.0 L470.0,257.5 L473.0,260.5 L477.5,262.0 L480.0,266.0 L476.0,271.0 L470.0,273.0 L464.0,275.5 L458.0,277.0 L454.0,280.0 L452.0,286.0 L450.0,291.0 L445.0,293.0 L440.0,290.5 L437.0,286.0 L434.0,280.0 L431.0,275.0Z" fill="#ffba00"/><path d="M432.0,270.0 L438.0,268.0 L444.0,266.0 L450.0,262.5 L456.0,260.5 L462.0,259.0 L466.0,261.0 L463.0,264.5 L466.0,268.0 L462.0,272.0 L456.0,274.0 L452.0,277.5 L449.0,283.0 L446.0,289.0 L441.0,290.0 L437.0,284.0 L433.0,276.0Z" fill="#ff8700"/><path d="M432.0,272.0 L435.0,273.0 L437.5,278.0 L440.0,284.0 L443.0,290.0 L439.5,291.5 L436.5,286.0 L433.5,279.0Z" fill="#ff4800"/><path d="M443.0,271.0 L447.0,267.5 L451.0,267.0 L455.0,270.0 L453.0,274.0 L450.0,277.5 L447.0,281.5 L445.5,287.0 L442.5,288.5 L442.5,281.0 L444.0,276.0Z" fill="#ff4800"/><path d="M447.8,270.0 L450.2,268.6 L452.6,272.6 L455.0,273.6 L451.2,276.0 L448.6,277.4Z" fill="#dc0000"/><path d="M441.5,273.5 L443.2,277.5 L441.5,281.5 L439.8,277.5Z" fill="#ffb300"/><ellipse cx="468.8" cy="265.1" rx="1.1" ry="1.1" fill="#f4f903" transform="rotate(0 468.8 265.1)"/></g></g><path d="M427.5,272.5 C427.6,271.8 428.8,268.6 429.5,267.9 C430.2,267.2 433.3,265.5 434.2,265.1 C435.1,264.7 438.0,264.7 438.8,264.2 C439.6,263.7 441.6,261.2 442.5,260.5 C443.4,259.8 446.8,257.8 448.0,257.2 C449.2,256.6 453.2,255.0 454.5,254.5 C455.8,254.0 459.7,252.0 460.9,251.9 C462.1,251.8 465.5,253.2 466.5,253.5 C467.5,253.8 470.5,254.0 471.1,254.5 C471.7,255.0 471.9,257.6 472.5,258.2 C473.1,258.8 475.9,260.2 476.6,260.9 C477.3,261.6 479.3,264.3 479.4,265.1 C479.5,265.9 478.2,268.4 477.6,269.2 C477.0,270.0 473.9,272.2 472.9,272.9 C471.9,273.6 468.5,275.9 467.4,276.6 C466.3,277.3 462.9,279.5 461.9,280.3 C460.9,281.1 458.0,284.0 457.2,284.9 C456.4,285.8 454.4,288.9 453.5,289.6 C452.6,290.3 449.2,291.6 448.0,291.9 C446.8,292.2 442.7,292.2 441.5,292.3 C440.3,292.4 436.8,293.4 436.0,293.2 C435.2,293.0 434.0,291.4 433.7,290.5 C433.4,289.6 433.4,285.3 433.2,284.0 C433.0,282.7 432.3,278.4 431.8,277.5 C431.3,276.6 429.0,275.7 428.6,275.2 C428.2,274.7 427.4,273.2 427.5,272.5Z" fill="none" stroke="#000" stroke-width="1.00" stroke-linejoin="round"/>
<g clip-path="url(#c21)"><path d="M463.1,305.3 C463.2,304.8 464.5,301.7 465.0,301.1 C465.5,300.6 468.4,299.0 469.2,298.7 C470.0,298.4 473.9,298.1 474.4,297.8 C474.9,297.5 474.5,295.4 474.8,295.0 C475.1,294.6 477.6,292.7 478.1,292.7 C478.6,292.7 480.0,294.5 480.4,294.5 C480.8,294.5 482.8,292.7 483.2,292.7 C483.6,292.7 485.4,294.1 485.6,294.5 C485.8,294.9 485.7,297.3 486.0,297.8 C486.3,298.3 488.8,299.6 489.3,300.1 C489.8,300.6 491.9,302.9 492.1,303.4 C492.3,303.9 492.3,305.7 492.1,306.2 C491.9,306.7 490.0,308.6 489.3,309.0 C488.6,309.4 484.1,310.7 483.2,310.9 C482.3,311.1 478.7,311.2 478.1,311.4 C477.5,311.6 476.7,313.2 476.2,313.2 C475.7,313.2 472.7,311.8 472.0,311.4 C471.3,311.0 468.0,309.0 467.3,308.6 C466.6,308.2 464.5,307.0 464.1,306.7 C463.8,306.4 463.0,305.8 463.1,305.3Z" fill="#f4f903"/><g filter="url(#b0.45)"><path d="M480.9,303.4 L484.6,302.0 L487.9,303.9 L490.7,307.2 L487.0,309.5 L483.0,312.0 L481.0,310.4 L480.7,306.7Z" fill="#ffc000"/></g></g><path d="M463.1,305.3 C463.2,304.8 464.5,301.7 465.0,301.1 C465.5,300.6 468.4,299.0 469.2,298.7 C470.0,298.4 473.9,298.1 474.4,297.8 C474.9,297.5 474.5,295.4 474.8,295.0 C475.1,294.6 477.6,292.7 478.1,292.7 C478.6,292.7 480.0,294.5 480.4,294.5 C480.8,294.5 482.8,292.7 483.2,292.7 C483.6,292.7 485.4,294.1 485.6,294.5 C485.8,294.9 485.7,297.3 486.0,297.8 C486.3,298.3 488.8,299.6 489.3,300.1 C489.8,300.6 491.9,302.9 492.1,303.4 C492.3,303.9 492.3,305.7 492.1,306.2 C491.9,306.7 490.0,308.6 489.3,309.0 C488.6,309.4 484.1,310.7 483.2,310.9 C482.3,311.1 478.7,311.2 478.1,311.4 C477.5,311.6 476.7,313.2 476.2,313.2 C475.7,313.2 472.7,311.8 472.0,311.4 C471.3,311.0 468.0,309.0 467.3,308.6 C466.6,308.2 464.5,307.0 464.1,306.7 C463.8,306.4 463.0,305.8 463.1,305.3Z" fill="none" stroke="#000" stroke-width="1.00" stroke-linejoin="round"/>
<g clip-path="url(#c22)"><path d="M503.3,313.2 C503.4,312.6 504.2,311.3 504.7,310.9 C505.2,310.5 506.4,310.1 507.1,310.4 C507.8,310.7 509.2,311.9 509.9,312.8 C510.6,313.7 511.4,316.4 512.2,317.0 C513.0,317.6 515.2,317.3 515.9,317.4 C516.6,317.5 517.7,317.5 517.8,317.9 C517.9,318.3 517.5,319.8 516.9,320.2 C516.3,320.6 514.0,321.2 513.1,321.2 C512.2,321.2 510.8,320.8 509.9,320.2 C509.0,319.6 507.3,317.7 506.6,317.0 C505.9,316.3 504.7,315.6 504.3,315.1 C503.9,314.6 503.2,313.8 503.3,313.2Z" fill="#f4f903"/><g filter="url(#b0.4)"><ellipse cx="513.0" cy="321.0" rx="3.0" ry="0.8" fill="#ffcd00" transform="rotate(0 513.0 321.0)"/></g></g><path d="M503.3,313.2 C503.4,312.6 504.2,311.3 504.7,310.9 C505.2,310.5 506.4,310.1 507.1,310.4 C507.8,310.7 509.2,311.9 509.9,312.8 C510.6,313.7 511.4,316.4 512.2,317.0 C513.0,317.6 515.2,317.3 515.9,317.4 C516.6,317.5 517.7,317.5 517.8,317.9 C517.9,318.3 517.5,319.8 516.9,320.2 C516.3,320.6 514.0,321.2 513.1,321.2 C512.2,321.2 510.8,320.8 509.9,320.2 C509.0,319.6 507.3,317.7 506.6,317.0 C505.9,316.3 504.7,315.6 504.3,315.1 C503.9,314.6 503.2,313.8 503.3,313.2Z" fill="none" stroke="#000" stroke-width="1.00" stroke-linejoin="round"/>
<g clip-path="url(#c23)"><path d="M528.3,337.1 C528.5,337.0 532.4,337.0 532.6,337.1 C532.8,337.2 533.0,339.8 532.8,339.9 C532.6,340.0 528.6,340.0 528.4,339.9 C528.2,339.8 528.1,337.2 528.3,337.1Z" fill="#ffec00"/></g><path d="M528.3,337.1 C528.5,337.0 532.4,337.0 532.6,337.1 C532.8,337.2 533.0,339.8 532.8,339.9 C532.6,340.0 528.6,340.0 528.4,339.9 C528.2,339.8 528.1,337.2 528.3,337.1Z" fill="none" stroke="#000" stroke-width="1.00" stroke-linejoin="round"/>
<g clip-path="url(#c24)"><path d="M551.1,334.6 C551.2,334.0 552.0,331.8 552.5,331.3 C553.0,330.8 555.5,330.2 556.3,329.9 C557.1,329.6 559.8,328.4 560.5,328.4 C561.2,328.4 563.0,329.3 563.8,329.9 C564.6,330.5 567.9,333.7 568.9,334.1 C569.9,334.5 573.0,333.8 574.0,333.7 C575.0,333.6 577.8,333.0 578.7,333.2 C579.6,333.4 582.3,335.6 583.4,336.0 C584.5,336.4 588.5,336.9 589.9,337.0 C591.3,337.1 596.3,337.2 597.4,337.4 C598.5,337.6 600.4,338.9 601.1,339.3 C601.8,339.7 604.4,340.9 604.7,341.6 C605.0,342.3 605.0,345.8 604.4,346.3 C603.8,346.8 599.4,346.7 598.3,346.8 C597.2,346.9 594.6,347.4 593.7,347.2 C592.8,347.0 590.0,344.9 589.0,344.4 C588.0,343.9 584.4,342.5 583.4,342.1 C582.4,341.7 579.7,340.2 578.7,340.2 C577.7,340.2 573.9,341.5 573.1,342.1 C572.3,342.7 570.8,344.9 570.3,345.8 C569.8,346.7 568.5,349.7 568.0,351.0 C567.5,352.3 566.1,358.1 565.6,358.4 C565.1,358.7 563.9,354.9 563.3,353.8 C562.7,352.7 560.5,348.4 560.0,347.2 C559.5,346.0 559.2,342.9 558.6,342.1 C558.0,341.3 554.2,339.8 553.5,339.3 C552.8,338.8 551.8,337.5 551.6,337.0 C551.4,336.5 551.0,335.2 551.1,334.6Z" fill="#f1fc05"/><g filter="url(#b0.5)"><path d="M551.0,333.0 L555.0,331.5 L560.0,331.0 L564.0,333.0 L567.0,337.5 L570.5,341.0 L569.5,346.0 L567.4,351.5 L565.6,354.5 L563.0,352.0 L560.0,346.0 L558.0,341.0 L553.0,339.0 L551.0,337.0Z" fill="#ffbd00"/><path d="M579.0,339.0 L584.0,339.8 L590.0,341.4 L596.0,341.6 L601.0,342.0 L605.0,343.0 L605.0,347.5 L594.0,348.0 L589.0,345.0 L583.0,342.5 L578.0,340.6Z" fill="#ffbd00"/><ellipse cx="574.6" cy="336.0" rx="2.6" ry="1.2" fill="#b2ff45" transform="rotate(-10 574.6 336.0)"/><ellipse cx="590.9" cy="338.9" rx="6.4" ry="1.3" fill="#a7ff50" transform="rotate(8 590.9 338.9)"/><ellipse cx="599.5" cy="345.6" rx="1.5" ry="0.8" fill="#ff7800" transform="rotate(0 599.5 345.6)"/><ellipse cx="561.6" cy="343.4" rx="0.8" ry="0.8" fill="#ff8700" transform="rotate(0 561.6 343.4)"/></g></g><path d="M551.1,334.6 C551.2,334.0 552.0,331.8 552.5,331.3 C553.0,330.8 555.5,330.2 556.3,329.9 C557.1,329.6 559.8,328.4 560.5,328.4 C561.2,328.4 563.0,329.3 563.8,329.9 C564.6,330.5 567.9,333.7 568.9,334.1 C569.9,334.5 573.0,333.8 574.0,333.7 C575.0,333.6 577.8,333.0 578.7,333.2 C579.6,333.4 582.3,335.6 583.4,336.0 C584.5,336.4 588.5,336.9 589.9,337.0 C591.3,337.1 596.3,337.2 597.4,337.4 C598.5,337.6 600.4,338.9 601.1,339.3 C601.8,339.7 604.4,340.9 604.7,341.6 C605.0,342.3 605.0,345.8 604.4,346.3 C603.8,346.8 599.4,346.7 598.3,346.8 C597.2,346.9 594.6,347.4 593.7,347.2 C592.8,347.0 590.0,344.9 589.0,344.4 C588.0,343.9 584.4,342.5 583.4,342.1 C582.4,341.7 579.7,340.2 578.7,340.2 C577.7,340.2 573.9,341.5 573.1,342.1 C572.3,342.7 570.8,344.9 570.3,345.8 C569.8,346.7 568.5,349.7 568.0,351.0 C567.5,352.3 566.1,358.1 565.6,358.4 C565.1,358.7 563.9,354.9 563.3,353.8 C562.7,352.7 560.5,348.4 560.0,347.2 C559.5,346.0 559.2,342.9 558.6,342.1 C558.0,341.3 554.2,339.8 553.5,339.3 C552.8,338.8 551.8,337.5 551.6,337.0 C551.4,336.5 551.0,335.2 551.1,334.6Z" fill="none" stroke="#000" stroke-width="1.00" stroke-linejoin="round"/>
<g clip-path="url(#c25)"><path d="M636.5,258.1 C636.9,257.6 639.7,255.9 640.4,255.4 C641.1,254.9 643.3,253.3 643.9,253.3 C644.5,253.3 646.3,255.3 646.6,255.8 C646.9,256.3 646.7,257.6 646.6,258.1 C646.5,258.6 645.4,260.1 645.4,260.8 C645.4,261.5 646.1,264.2 646.3,265.1 C646.5,266.0 646.8,268.8 647.0,269.7 C647.2,270.6 648.4,272.7 648.5,273.6 C648.6,274.5 647.9,278.2 647.7,279.1 C647.5,280.0 646.7,282.3 646.3,282.9 C645.9,283.5 644.4,285.5 644.0,285.4 C643.6,285.3 642.9,283.0 642.7,282.2 C642.5,281.4 642.1,278.3 641.9,277.5 C641.7,276.7 641.5,274.5 641.1,274.0 C640.8,273.5 638.8,273.2 638.4,272.8 C638.0,272.4 637.3,271.1 637.3,270.5 C637.3,269.9 638.1,267.2 638.0,266.6 C637.9,266.0 636.7,265.3 636.5,264.7 C636.3,264.1 636.1,261.5 636.1,260.8 C636.1,260.1 636.1,258.6 636.5,258.1Z" fill="#f1fc05"/><g filter="url(#b0.4)"><ellipse cx="637.2" cy="260.8" rx="1.3" ry="2.4" fill="#a7ff50" transform="rotate(0 637.2 260.8)"/><ellipse cx="640.2" cy="272.6" rx="1.6" ry="1.0" fill="#ffa700" transform="rotate(0 640.2 272.6)"/><ellipse cx="647.0" cy="279.4" rx="0.8" ry="1.0" fill="#ffa700" transform="rotate(0 647.0 279.4)"/></g></g><path d="M636.5,258.1 C636.9,257.6 639.7,255.9 640.4,255.4 C641.1,254.9 643.3,253.3 643.9,253.3 C644.5,253.3 646.3,255.3 646.6,255.8 C646.9,256.3 646.7,257.6 646.6,258.1 C646.5,258.6 645.4,260.1 645.4,260.8 C645.4,261.5 646.1,264.2 646.3,265.1 C646.5,266.0 646.8,268.8 647.0,269.7 C647.2,270.6 648.4,272.7 648.5,273.6 C648.6,274.5 647.9,278.2 647.7,279.1 C647.5,280.0 646.7,282.3 646.3,282.9 C645.9,283.5 644.4,285.5 644.0,285.4 C643.6,285.3 642.9,283.0 642.7,282.2 C642.5,281.4 642.1,278.3 641.9,277.5 C641.7,276.7 641.5,274.5 641.1,274.0 C640.8,273.5 638.8,273.2 638.4,272.8 C638.0,272.4 637.3,271.1 637.3,270.5 C637.3,269.9 638.1,267.2 638.0,266.6 C637.9,266.0 636.7,265.3 636.5,264.7 C636.3,264.1 636.1,261.5 636.1,260.8 C636.1,260.1 636.1,258.6 636.5,258.1Z" fill="none" stroke="#000" stroke-width="1.00" stroke-linejoin="round"/>
<g clip-path="url(#c26)"><path d="M644.6,328.1 C644.9,327.9 645.7,329.7 646.3,330.1 C646.9,330.5 649.5,331.9 650.3,332.2 C651.1,332.4 653.4,332.9 654.0,332.6 C654.6,332.4 655.7,329.9 656.4,329.7 C657.1,329.4 660.0,329.9 660.9,330.1 C661.8,330.3 664.3,331.3 665.0,331.8 C665.7,332.3 667.3,334.8 667.8,335.4 C668.3,336.0 669.9,337.2 670.2,337.9 C670.5,338.6 670.5,341.5 670.7,342.3 C670.9,343.1 671.9,344.9 671.9,345.6 C671.9,346.3 670.8,348.8 670.2,349.6 C669.6,350.4 666.6,352.6 665.8,353.3 C664.9,354.0 662.5,356.4 661.7,357.0 C660.9,357.6 658.5,358.7 657.6,359.0 C656.7,359.3 653.7,360.2 652.8,360.2 C651.9,360.2 649.1,359.8 648.3,359.4 C647.5,359.0 645.3,356.6 644.6,356.1 C643.9,355.6 641.5,354.7 641.0,354.1 C640.5,353.5 639.3,351.3 639.3,350.5 C639.3,349.7 640.1,347.1 640.6,346.4 C641.1,345.7 643.4,344.3 643.8,343.5 C644.2,342.7 644.6,339.4 644.6,338.3 C644.6,337.2 643.8,333.6 643.8,332.6 C643.8,331.6 644.4,328.4 644.6,328.1Z" fill="#f1fc05"/><g filter="url(#b0.5)"><path d="M636.0,333.0 L646.0,332.5 L650.0,334.0 L652.5,340.0 L656.0,345.5 L661.0,349.5 L664.5,352.0 L662.0,357.0 L656.0,362.0 L636.0,364.0Z" fill="#c3ff34"/><path d="M636.0,343.5 L645.5,343.0 L650.0,344.5 L654.0,349.5 L657.5,355.0 L658.5,359.0 L655.0,364.0 L636.0,364.0Z" fill="#8cff6b"/><ellipse cx="641.0" cy="353.0" rx="1.4" ry="1.8" fill="#45ffb2" transform="rotate(0 641.0 353.0)"/><ellipse cx="644.6" cy="329.6" rx="0.9" ry="1.4" fill="#ffa700" transform="rotate(0 644.6 329.6)"/></g></g><path d="M644.6,328.1 C644.9,327.9 645.7,329.7 646.3,330.1 C646.9,330.5 649.5,331.9 650.3,332.2 C651.1,332.4 653.4,332.9 654.0,332.6 C654.6,332.4 655.7,329.9 656.4,329.7 C657.1,329.4 660.0,329.9 660.9,330.1 C661.8,330.3 664.3,331.3 665.0,331.8 C665.7,332.3 667.3,334.8 667.8,335.4 C668.3,336.0 669.9,337.2 670.2,337.9 C670.5,338.6 670.5,341.5 670.7,342.3 C670.9,343.1 671.9,344.9 671.9,345.6 C671.9,346.3 670.8,348.8 670.2,349.6 C669.6,350.4 666.6,352.6 665.8,353.3 C664.9,354.0 662.5,356.4 661.7,357.0 C660.9,357.6 658.5,358.7 657.6,359.0 C656.7,359.3 653.7,360.2 652.8,360.2 C651.9,360.2 649.1,359.8 648.3,359.4 C647.5,359.0 645.3,356.6 644.6,356.1 C643.9,355.6 641.5,354.7 641.0,354.1 C640.5,353.5 639.3,351.3 639.3,350.5 C639.3,349.7 640.1,347.1 640.6,346.4 C641.1,345.7 643.4,344.3 643.8,343.5 C644.2,342.7 644.6,339.4 644.6,338.3 C644.6,337.2 643.8,333.6 643.8,332.6 C643.8,331.6 644.4,328.4 644.6,328.1Z" fill="none" stroke="#000" stroke-width="1.00" stroke-linejoin="round"/>
<g clip-path="url(#c27)"><path d="M448.6,453.0 C448.7,452.4 449.3,450.1 449.6,449.6 C449.9,449.1 451.5,448.4 452.0,448.2 C452.5,448.0 454.5,447.5 455.0,447.6 C455.5,447.7 456.4,448.8 456.6,449.4 C456.8,450.0 456.8,453.2 456.8,454.0 C456.8,454.8 456.6,456.8 456.2,457.4 C455.8,458.0 453.6,459.6 453.0,459.6 C452.4,459.6 451.0,458.0 450.6,457.6 C450.2,457.2 449.2,456.1 449.0,455.6 C448.8,455.1 448.5,453.6 448.6,453.0Z" fill="#ffba00"/><g filter="url(#b0.45)"><path d="M452.6,451.4 L457.0,451.0 L457.0,458.5 L453.4,459.0 L452.4,455.0Z" fill="#ff8e00"/><ellipse cx="449.6" cy="453.0" rx="0.9" ry="2.2" fill="#faf200" transform="rotate(0 449.6 453.0)"/></g></g><path d="M448.6,453.0 C448.7,452.4 449.3,450.1 449.6,449.6 C449.9,449.1 451.5,448.4 452.0,448.2 C452.5,448.0 454.5,447.5 455.0,447.6 C455.5,447.7 456.4,448.8 456.6,449.4 C456.8,450.0 456.8,453.2 456.8,454.0 C456.8,454.8 456.6,456.8 456.2,457.4 C455.8,458.0 453.6,459.6 453.0,459.6 C452.4,459.6 451.0,458.0 450.6,457.6 C450.2,457.2 449.2,456.1 449.0,455.6 C448.8,455.1 448.5,453.6 448.6,453.0Z" fill="none" stroke="#000" stroke-width="1.00" stroke-linejoin="round"/>
<g clip-path="url(#c28)"><path d="M474.8,443.4 C475.1,442.3 476.1,439.3 477.2,437.9 C478.3,436.5 481.2,434.0 482.7,432.9 C484.2,431.8 487.2,430.1 488.7,429.5 C490.2,428.9 492.4,428.4 493.6,428.5 C494.8,428.6 496.8,429.5 497.6,430.5 C498.4,431.5 499.1,434.3 499.6,435.9 C500.1,437.5 500.8,440.7 501.1,442.4 C501.4,444.1 501.9,447.3 501.6,448.8 C501.3,450.3 499.7,452.7 498.6,453.8 C497.5,454.9 494.9,456.8 493.6,457.3 C492.3,457.8 490.0,458.2 488.7,457.8 C487.4,457.4 485.0,455.4 483.7,454.3 C482.4,453.2 479.8,450.9 478.7,449.8 C477.6,448.7 475.8,447.2 475.3,446.3 C474.8,445.4 474.5,444.5 474.8,443.4Z" fill="#e9ff0e"/><g filter="url(#b0.55)"><ellipse cx="476.8" cy="443.0" rx="1.6" ry="2.6" fill="#9cff5a" transform="rotate(0 476.8 443.0)"/><ellipse cx="493.5" cy="443.0" rx="12.2" ry="15.0" fill="#ffcd00" transform="rotate(8 493.5 443.0)"/><ellipse cx="494.0" cy="443.0" rx="10.4" ry="13.4" fill="#ff9a00" transform="rotate(8 494.0 443.0)"/><ellipse cx="494.2" cy="442.6" rx="8.6" ry="11.6" fill="#ff5b00" transform="rotate(8 494.2 442.6)"/><ellipse cx="492.2" cy="443.2" rx="5.9" ry="8.2" fill="#ff1c00" transform="rotate(8 492.2 443.2)"/><ellipse cx="493.8" cy="440.6" rx="3.9" ry="4.6" fill="#ff6200" transform="rotate(0 493.8 440.6)"/><ellipse cx="493.4" cy="440.9" rx="2.6" ry="2.8" fill="#ffb300" transform="rotate(0 493.4 440.9)"/><ellipse cx="493.2" cy="440.9" rx="1.4" ry="1.3" fill="#faf200" transform="rotate(0 493.2 440.9)"/></g></g><path d="M474.8,443.4 C475.1,442.3 476.1,439.3 477.2,437.9 C478.3,436.5 481.2,434.0 482.7,432.9 C484.2,431.8 487.2,430.1 488.7,429.5 C490.2,428.9 492.4,428.4 493.6,428.5 C494.8,428.6 496.8,429.5 497.6,430.5 C498.4,431.5 499.1,434.3 499.6,435.9 C500.1,437.5 500.8,440.7 501.1,442.4 C501.4,444.1 501.9,447.3 501.6,448.8 C501.3,450.3 499.7,452.7 498.6,453.8 C497.5,454.9 494.9,456.8 493.6,457.3 C492.3,457.8 490.0,458.2 488.7,457.8 C487.4,457.4 485.0,455.4 483.7,454.3 C482.4,453.2 479.8,450.9 478.7,449.8 C477.6,448.7 475.8,447.2 475.3,446.3 C474.8,445.4 474.5,444.5 474.8,443.4Z" fill="none" stroke="#000" stroke-width="1.00" stroke-linejoin="round"/>
<g clip-path="url(#c29)"><path d="M559.5,396.6 C559.5,396.2 561.5,393.5 561.9,393.1 C562.3,392.7 563.9,391.2 564.2,391.3 C564.5,391.4 565.0,393.5 565.4,393.7 C565.8,393.9 568.7,393.8 569.0,394.0 C569.3,394.2 569.5,396.2 569.5,396.6 C569.5,397.0 568.8,398.6 569.0,399.0 C569.2,399.4 571.3,401.5 571.9,402.0 C572.5,402.5 575.4,404.3 576.0,404.9 C576.6,405.5 578.4,408.3 579.0,409.0 C579.6,409.7 582.4,413.2 583.1,413.8 C583.8,414.4 587.2,416.2 587.9,416.7 C588.6,417.2 590.9,419.6 591.4,420.3 C591.9,421.0 593.2,424.5 593.8,425.6 C594.4,426.7 598.3,432.4 598.5,433.3 C598.7,434.2 597.0,436.1 596.7,436.8 C596.4,437.5 594.9,440.9 594.4,441.6 C593.9,442.3 591.7,444.8 590.8,445.1 C589.9,445.4 584.9,445.2 583.7,445.1 C582.5,445.0 577.7,444.3 576.6,443.9 C575.5,443.5 571.5,440.5 570.7,439.8 C569.9,439.1 567.1,436.3 566.6,435.6 C566.1,434.9 565.2,432.2 564.8,431.5 C564.4,430.8 561.8,428.0 561.3,427.4 C560.8,426.8 558.9,424.5 558.9,423.8 C558.9,423.1 560.7,419.8 560.7,419.1 C560.8,418.4 559.5,415.8 559.5,415.0 C559.5,414.2 561.0,410.5 561.3,409.6 C561.5,408.7 562.4,404.5 562.5,403.7 C562.6,402.9 563.1,400.1 563.0,399.6 C562.9,399.1 561.6,398.1 561.3,397.8 C561.0,397.6 559.5,397.0 559.5,396.6Z" fill="#f1fc05"/><g filter="url(#b0.6)"><path d="M564.8,408.5 L570.0,405.0 L576.6,405.5 L577.8,415.6 L576.6,421.5 L581.4,427.4 L587.3,433.3 L584.9,438.0 L579.0,438.6 L570.7,434.5 L566.6,428.6 L567.2,421.5 L568.4,416.7 L564.8,413.2Z" fill="#ffbd00"/><ellipse cx="567.8" cy="412.6" rx="1.1" ry="3.0" fill="#ff8100" transform="rotate(-8 567.8 412.6)"/><ellipse cx="575.5" cy="431.5" rx="4.0" ry="1.4" fill="#ff8100" transform="rotate(28 575.5 431.5)"/><ellipse cx="589.6" cy="443.6" rx="5.0" ry="2.2" fill="#adff4a" transform="rotate(0 589.6 443.6)"/><ellipse cx="560.4" cy="421.5" rx="1.6" ry="3.0" fill="#89ff6e" transform="rotate(0 560.4 421.5)"/></g></g><path d="M559.5,396.6 C559.5,396.2 561.5,393.5 561.9,393.1 C562.3,392.7 563.9,391.2 564.2,391.3 C564.5,391.4 565.0,393.5 565.4,393.7 C565.8,393.9 568.7,393.8 569.0,394.0 C569.3,394.2 569.5,396.2 569.5,396.6 C569.5,397.0 568.8,398.6 569.0,399.0 C569.2,399.4 571.3,401.5 571.9,402.0 C572.5,402.5 575.4,404.3 576.0,404.9 C576.6,405.5 578.4,408.3 579.0,409.0 C579.6,409.7 582.4,413.2 583.1,413.8 C583.8,414.4 587.2,416.2 587.9,416.7 C588.6,417.2 590.9,419.6 591.4,420.3 C591.9,421.0 593.2,424.5 593.8,425.6 C594.4,426.7 598.3,432.4 598.5,433.3 C598.7,434.2 597.0,436.1 596.7,436.8 C596.4,437.5 594.9,440.9 594.4,441.6 C593.9,442.3 591.7,444.8 590.8,445.1 C589.9,445.4 584.9,445.2 583.7,445.1 C582.5,445.0 577.7,444.3 576.6,443.9 C575.5,443.5 571.5,440.5 570.7,439.8 C569.9,439.1 567.1,436.3 566.6,435.6 C566.1,434.9 565.2,432.2 564.8,431.5 C564.4,430.8 561.8,428.0 561.3,427.4 C560.8,426.8 558.9,424.5 558.9,423.8 C558.9,423.1 560.7,419.8 560.7,419.1 C560.8,418.4 559.5,415.8 559.5,415.0 C559.5,414.2 561.0,410.5 561.3,409.6 C561.5,408.7 562.4,404.5 562.5,403.7 C562.6,402.9 563.1,400.1 563.0,399.6 C562.9,399.1 561.6,398.1 561.3,397.8 C561.0,397.6 559.5,397.0 559.5,396.6Z" fill="none" stroke="#000" stroke-width="1.00" stroke-linejoin="round"/>
<g clip-path="url(#c30)"><path d="M625.3,393.4 C625.6,393.0 627.3,391.7 627.8,391.6 C628.3,391.5 629.9,391.8 630.3,392.0 C630.6,392.2 630.8,393.4 631.3,393.7 C631.8,394.0 634.7,394.3 635.2,394.8 C635.7,395.3 636.1,397.7 636.2,398.6 C636.3,399.6 636.5,403.2 636.6,404.3 C636.7,405.4 637.4,408.2 637.3,409.2 C637.2,410.2 636.4,413.3 635.9,414.1 C635.4,414.9 633.0,416.4 632.4,416.9 C631.8,417.4 630.8,418.8 630.3,419.0 C629.8,419.2 628.0,419.0 627.4,418.7 C626.8,418.4 624.6,416.8 623.9,416.2 C623.2,415.6 620.7,413.8 620.4,413.0 C620.1,412.2 620.6,409.3 620.8,408.5 C621.0,407.7 622.2,405.6 622.5,405.0 C622.8,404.4 623.7,403.3 623.6,402.9 C623.5,402.5 621.6,401.5 621.5,401.1 C621.4,400.7 622.1,399.1 622.5,398.6 C622.9,398.1 624.7,396.3 625.0,395.8 C625.3,395.3 625.0,393.8 625.3,393.4Z" fill="#f1fc05"/><g filter="url(#b0.55)"><path d="M618.0,398.0 L624.0,394.5 L628.0,395.5 L630.5,398.0 L632.0,404.0 L632.6,410.0 L631.0,414.0 L628.0,417.0 L618.0,418.0Z" fill="#c3ff34"/><path d="M618.0,406.0 L624.5,404.5 L627.0,403.5 L628.6,408.0 L629.4,413.0 L627.0,415.8 L618.0,416.0Z" fill="#8cff6b"/><ellipse cx="624.2" cy="412.6" rx="1.4" ry="2.2" fill="#37ffc0" transform="rotate(0 624.2 412.6)"/></g></g><path d="M623.7,411.4 L624.2,414.2" stroke="#033" stroke-width="0.9"/><path d="M625.3,393.4 C625.6,393.0 627.3,391.7 627.8,391.6 C628.3,391.5 629.9,391.8 630.3,392.0 C630.6,392.2 630.8,393.4 631.3,393.7 C631.8,394.0 634.7,394.3 635.2,394.8 C635.7,395.3 636.1,397.7 636.2,398.6 C636.3,399.6 636.5,403.2 636.6,404.3 C636.7,405.4 637.4,408.2 637.3,409.2 C637.2,410.2 636.4,413.3 635.9,414.1 C635.4,414.9 633.0,416.4 632.4,416.9 C631.8,417.4 630.8,418.8 630.3,419.0 C629.8,419.2 628.0,419.0 627.4,418.7 C626.8,418.4 624.6,416.8 623.9,416.2 C623.2,415.6 620.7,413.8 620.4,413.0 C620.1,412.2 620.6,409.3 620.8,408.5 C621.0,407.7 622.2,405.6 622.5,405.0 C622.8,404.4 623.7,403.3 623.6,402.9 C623.5,402.5 621.6,401.5 621.5,401.1 C621.4,400.7 622.1,399.1 622.5,398.6 C622.9,398.1 624.7,396.3 625.0,395.8 C625.3,395.3 625.0,393.8 625.3,393.4Z" fill="none" stroke="#000" stroke-width="1.00" stroke-linejoin="round"/>
<path d="M49.4,254.0 L154.4,254.0 L160.0,258.0 L154.4,262.0 L49.4,262.0 L43.4,258.0Z" fill="url(#g31)" stroke="#000" stroke-width="0.8" stroke-linejoin="miter"/><path d="M49.4,262.0 v2.4" stroke="#000" stroke-width="0.75"/><text x="49.4" y="273.9" font-size="7.2" text-anchor="middle">-10</text><path d="M84.4,262.0 v2.4" stroke="#000" stroke-width="0.75"/><text x="84.4" y="273.9" font-size="7.2" text-anchor="middle">0</text><path d="M119.4,262.0 v2.4" stroke="#000" stroke-width="0.75"/><text x="119.4" y="273.9" font-size="7.2" text-anchor="middle">10</text><path d="M154.4,262.0 v2.4" stroke="#000" stroke-width="0.75"/><text x="154.4" y="273.9" font-size="7.2" text-anchor="middle">20</text>
<path d="M447.0,159.2 L573.0,159.2 L580.6,163.4 L573.0,167.6 L447.0,167.6 L440.5,163.4Z" fill="url(#g32)" stroke="#000" stroke-width="0.8" stroke-linejoin="miter"/><path d="M447.0,167.6 v3.0" stroke="#000" stroke-width="0.75"/><text x="447.0" y="181.4" font-size="9.0" text-anchor="middle">-10</text><path d="M489.0,167.6 v3.0" stroke="#000" stroke-width="0.75"/><text x="489.0" y="181.4" font-size="9.0" text-anchor="middle">0</text><path d="M531.0,167.6 v3.0" stroke="#000" stroke-width="0.75"/><text x="531.0" y="181.4" font-size="9.0" text-anchor="middle">10</text><path d="M573.0,167.6 v3.0" stroke="#000" stroke-width="0.75"/><text x="573.0" y="181.4" font-size="9.0" text-anchor="middle">20</text>
<path d="M7.4,483.7 L147.1,483.7 L153.7,488.4 L147.1,493.1 L7.4,493.1 L0.8,488.4Z" fill="url(#g33)" stroke="#000" stroke-width="0.8" stroke-linejoin="miter"/><path d="M7.4,493.1 v3.0" stroke="#000" stroke-width="0.75"/><text x="7.4" y="507.9" font-size="9.0" text-anchor="middle">-10</text><path d="M54.0,493.1 v3.0" stroke="#000" stroke-width="0.75"/><text x="54.0" y="507.9" font-size="9.0" text-anchor="middle">0</text><path d="M100.5,493.1 v3.0" stroke="#000" stroke-width="0.75"/><text x="100.5" y="507.9" font-size="9.0" text-anchor="middle">10</text><path d="M147.1,493.1 v3.0" stroke="#000" stroke-width="0.75"/><text x="147.1" y="507.9" font-size="9.0" text-anchor="middle">20</text>
<path d="M414.5,488.5 L518.4,488.5 L523.8,492.2 L518.4,496.0 L414.5,496.0 L408.6,492.2Z" fill="url(#g34)" stroke="#000" stroke-width="0.8" stroke-linejoin="miter"/><path d="M414.5,496.0 v2.5" stroke="#000" stroke-width="0.75"/><text x="414.5" y="508.7" font-size="7.4" text-anchor="middle">-10</text><path d="M449.1,496.0 v2.5" stroke="#000" stroke-width="0.75"/><text x="449.1" y="508.7" font-size="7.4" text-anchor="middle">0</text><path d="M483.8,496.0 v2.5" stroke="#000" stroke-width="0.75"/><text x="483.8" y="508.7" font-size="7.4" text-anchor="middle">10</text><path d="M518.4,496.0 v2.5" stroke="#000" stroke-width="0.75"/><text x="518.4" y="508.7" font-size="7.4" text-anchor="middle">20</text>
<g fill="none" stroke-width="1"><path d="M107.5,1 V120.5" stroke="#5c5c5c"/><path d="M28,120.5 H305" stroke="#505050"/><g stroke="#484848"><rect x="246.5" y="60.3" width="46.4" height="49.1"/><rect x="246.5" y="183.4" width="46.4" height="49"/></g><g stroke="#2c2c2c"><rect x="601.5" y="5" width="55.6" height="48.5"/><rect x="601.5" y="86.3" width="55.6" height="51.9"/><path d="M615.5,236 V370.4"/><path d="M408,370.4 H685"/></g></g>
<text class="cd" x="45.9" y="33.2" font-size="7.85">Corvo</text>
<text class="cd" x="69.6" y="65.8" font-size="7.85">Flores</text>
<text class="cd" x="198.5" y="20.5" font-size="7.85">São Miguel</text>
<text class="cd" x="197.9" y="108.1" font-size="7.85">Santa Maria</text>
<text class="cd" x="60.7" y="148.7" font-size="7.85">Faial</text>
<text class="cd" x="145.9" y="142.7" font-size="7.85">São Jorge</text>
<text class="cd" x="113.7" y="209.1" font-size="7.85">Pico</text>
<text class="cd" x="224.7" y="167.2" font-size="7.85">Terceira</text>
<text class="cd" x="252.1" y="244.1" font-size="7.85">Graciosa</text>
<text x="486.7" y="126.9" font-size="8.55">Madeira</text>
<text x="604.0" y="68.6" font-size="8.55">Porto Santo</text>
<text x="608.5" y="154.1" font-size="8.55">Desertas</text>
<text x="29.1" y="368.9" font-size="9.55">La Palma</text>
<text x="13.2" y="441.7" font-size="9.55">El Hierro</text>
<text x="64.0" y="449.9" font-size="9.55">La Gomera</text>
<text x="122.8" y="389.4" font-size="9.55">Tenerife</text>
<text x="192.9" y="417.2" font-size="9.55">Gran Canaria</text>
<text x="279.9" y="361.5" font-size="9.55">Lanzarote</text>
<text x="274.3" y="449.0" font-size="9.55">Fuerteventura</text>
<text class="cd" x="482.3" y="256.4" font-size="7.92">Santo Antão</text>
<text class="cd" x="489.2" y="288.5" font-size="7.92">São Vicente</text>
<text class="cd" x="470.7" y="331.6" font-size="7.92">Santa Luzia</text>
<text class="cd" x="555.7" y="321.3" font-size="7.92">São Nicolau</text>
<text class="cd" x="651.7" y="280.8" font-size="7.92">Sal</text>
<text class="cd" x="630.7" y="321.0" font-size="7.92">Boa Vista</text>
<text class="cd" x="437.4" y="436.8" font-size="7.92">Brava</text>
<text class="cd" x="483.3" y="418.8" font-size="7.92">Fogo</text>
<text class="cd" x="563.8" y="460.4" font-size="7.92">Santiago</text>
<text class="cd" x="636.7" y="430.7" font-size="7.92">Maio</text>
<text class="cb" x="133.8" y="302.8" textLength="18.1" lengthAdjust="spacingAndGlyphs">(a)</text>
<text class="cs" x="158.0" y="302.8" textLength="40.4" lengthAdjust="spacingAndGlyphs">Azores</text>
<text class="cb" x="507.1" y="210.9" textLength="18.5" lengthAdjust="spacingAndGlyphs">(b)</text>
<text class="cs" x="533.2" y="210.9" textLength="49.2" lengthAdjust="spacingAndGlyphs">Madeira</text>
<text class="cb" x="123.1" y="537.5" textLength="18.4" lengthAdjust="spacingAndGlyphs">(c)</text>
<text class="cs" x="149.4" y="537.5" textLength="90.6" lengthAdjust="spacingAndGlyphs">Canary Islands</text>
<text class="cb" x="496.4" y="537.7" textLength="18.9" lengthAdjust="spacingAndGlyphs">(d)</text>
<text class="cs" x="521.8" y="537.7" textLength="70.7" lengthAdjust="spacingAndGlyphs">Cabo Verde</text>
</svg>
</body></html>
